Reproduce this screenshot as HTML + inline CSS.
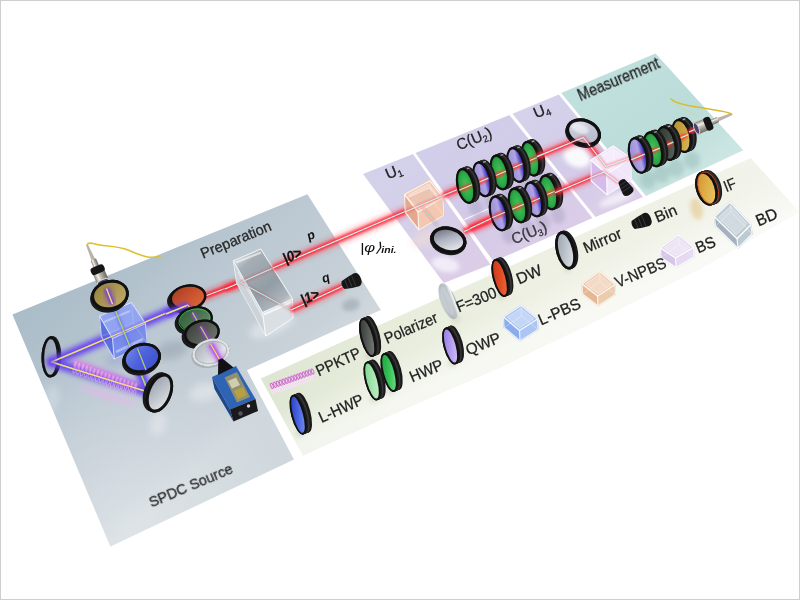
<!DOCTYPE html>
<html lang="en"><head><meta charset="utf-8"><title>Optical setup</title>
<style>html,body{margin:0;padding:0;background:#fff;overflow:hidden}svg{display:block}text{font-family:"Liberation Sans",sans-serif}</style></head>
<body>
<svg width="800" height="600" viewBox="0 0 800 600"><defs>
<linearGradient id="gGrey" gradientUnits="userSpaceOnUse" x1="12" y1="314" x2="172" y2="491">
 <stop offset="0" stop-color="#a9bcc8"/><stop offset="0.25" stop-color="#b2c2cd"/><stop offset="0.45" stop-color="#bbc8d2"/><stop offset="0.7" stop-color="#c3cdd5"/><stop offset="0.9" stop-color="#c9d2d9"/><stop offset="1" stop-color="#d0d8dd"/>
</linearGradient>
<radialGradient id="gGreyL" gradientUnits="userSpaceOnUse" cx="125" cy="525" r="170">
 <stop offset="0" stop-color="#ffffff" stop-opacity="0.3"/><stop offset="1" stop-color="#ffffff" stop-opacity="0"/>
</radialGradient>
<linearGradient id="gU1" gradientUnits="userSpaceOnUse" x1="390" y1="160" x2="465" y2="275">
 <stop offset="0" stop-color="#d3d1ea"/><stop offset="0.55" stop-color="#d6cfe9"/><stop offset="1" stop-color="#dccce7"/>
</linearGradient>
<radialGradient id="gU1fade" gradientUnits="userSpaceOnUse" cx="428" cy="284" r="26">
 <stop offset="0" stop-color="#ffffff" stop-opacity="0.85"/><stop offset="0.5" stop-color="#ffffff" stop-opacity="0.5"/><stop offset="1" stop-color="#ffffff" stop-opacity="0"/>
</radialGradient>
<linearGradient id="gU2" gradientUnits="userSpaceOnUse" x1="460" y1="130" x2="545" y2="245">
 <stop offset="0" stop-color="#d1cee9"/><stop offset="0.55" stop-color="#d2cae7"/><stop offset="1" stop-color="#dbcde8"/>
</linearGradient>
<linearGradient id="gU4" gradientUnits="userSpaceOnUse" x1="535" y1="100" x2="620" y2="210">
 <stop offset="0" stop-color="#d5d2eb"/><stop offset="0.55" stop-color="#d4cce8"/><stop offset="1" stop-color="#dccee9"/>
</linearGradient>
<linearGradient id="gMeas" gradientUnits="userSpaceOnUse" x1="610" y1="70" x2="700" y2="180">
 <stop offset="0" stop-color="#c0e0de"/><stop offset="0.6" stop-color="#bbdcd9"/><stop offset="1" stop-color="#cde6e3"/>
</linearGradient>
<linearGradient id="gLeg" gradientUnits="userSpaceOnUse" x1="270" y1="410" x2="790" y2="180">
 <stop offset="0" stop-color="#dde6d2"/><stop offset="0.25" stop-color="#e7ecdb"/><stop offset="0.6" stop-color="#eef0e3"/><stop offset="1" stop-color="#f2f3ea"/>
</linearGradient>
<linearGradient id="gLegLight" gradientUnits="userSpaceOnUse" x1="380" y1="325" x2="412" y2="393">
 <stop offset="0" stop-color="#ffffff" stop-opacity="0"/><stop offset="0.45" stop-color="#ffffff" stop-opacity="0.05"/><stop offset="1" stop-color="#ffffff" stop-opacity="0.6"/>
</linearGradient>
<filter id="b1" x="-50%" y="-50%" width="200%" height="200%"><feGaussianBlur stdDeviation="1"/></filter>
<filter id="b2" x="-50%" y="-50%" width="200%" height="200%"><feGaussianBlur stdDeviation="2"/></filter>
<filter id="b3" x="-50%" y="-50%" width="200%" height="200%"><feGaussianBlur stdDeviation="3.5"/></filter>
<filter id="b6" x="-50%" y="-50%" width="200%" height="200%"><feGaussianBlur stdDeviation="6"/></filter>
<linearGradient id="fGreen" x1="0" y1="0" x2="1" y2="1"><stop offset="0" stop-color="#1f9a3c"/><stop offset="0.5" stop-color="#35c257"/><stop offset="1" stop-color="#7fe08c"/></linearGradient><linearGradient id="fGreenL" x1="0" y1="0" x2="1" y2="1"><stop offset="0" stop-color="#6fd488"/><stop offset="0.5" stop-color="#a4e4ae"/><stop offset="1" stop-color="#c9f0cc"/></linearGradient><linearGradient id="fGreenD" x1="0" y1="0" x2="1" y2="1"><stop offset="0" stop-color="#1c7a34"/><stop offset="0.5" stop-color="#2f9a4a"/><stop offset="1" stop-color="#5fb86c"/></linearGradient><linearGradient id="fPurple" x1="0" y1="0" x2="1" y2="1"><stop offset="0" stop-color="#5a4fc0"/><stop offset="0.5" stop-color="#8a7fd8"/><stop offset="1" stop-color="#c0b4ea"/></linearGradient><linearGradient id="fPurpleL" x1="0" y1="0" x2="1" y2="1"><stop offset="0" stop-color="#8f78e0"/><stop offset="0.5" stop-color="#b39cf0"/><stop offset="1" stop-color="#d6c8f6"/></linearGradient><linearGradient id="fBlue" x1="0" y1="0" x2="1" y2="1"><stop offset="0" stop-color="#2238c8"/><stop offset="0.5" stop-color="#4a64e0"/><stop offset="1" stop-color="#7f95ee"/></linearGradient><linearGradient id="fDark" x1="0" y1="0" x2="1" y2="1"><stop offset="0" stop-color="#2e322f"/><stop offset="0.5" stop-color="#555a56"/><stop offset="1" stop-color="#7d837e"/></linearGradient><linearGradient id="fYellow" x1="0" y1="0" x2="1" y2="1"><stop offset="0" stop-color="#b8963a"/><stop offset="0.5" stop-color="#d2b252"/><stop offset="1" stop-color="#e6cc78"/></linearGradient><linearGradient id="fTan" x1="0" y1="0" x2="1" y2="1"><stop offset="0" stop-color="#94803f"/><stop offset="0.5" stop-color="#ab9652"/><stop offset="1" stop-color="#c2ae6c"/></linearGradient><linearGradient id="fRed" x1="0" y1="0" x2="1" y2="1"><stop offset="0" stop-color="#b8301c"/><stop offset="0.5" stop-color="#dc4a2a"/><stop offset="1" stop-color="#f0703c"/></linearGradient><linearGradient id="fOrange" x1="0" y1="0" x2="1" y2="1"><stop offset="0" stop-color="#c8341a"/><stop offset="0.5" stop-color="#e04a24"/><stop offset="1" stop-color="#f0703c"/></linearGradient><linearGradient id="fMirror" x1="0" y1="0" x2="1" y2="1"><stop offset="0" stop-color="#9aa0aa"/><stop offset="0.5" stop-color="#bcc2ca"/><stop offset="1" stop-color="#e6e8ec"/></linearGradient><linearGradient id="fMirrorL" x1="0" y1="0" x2="1" y2="1"><stop offset="0" stop-color="#a4a8ba"/><stop offset="0.5" stop-color="#aeb2c2"/><stop offset="1" stop-color="#b8bccb"/></linearGradient><linearGradient id="fMirror2" x1="0" y1="0" x2="1" y2="1"><stop offset="0" stop-color="#f0f2f4"/><stop offset="0.5" stop-color="#b4bac4"/><stop offset="1" stop-color="#7c828e"/></linearGradient><linearGradient id="fRedM" x1="0" y1="0" x2="1" y2="1"><stop offset="0" stop-color="#a63c22"/><stop offset="0.5" stop-color="#c8522e"/><stop offset="1" stop-color="#dc6a3c"/></linearGradient><linearGradient id="fGreenM" x1="0" y1="0" x2="1" y2="1"><stop offset="0" stop-color="#2e5a36"/><stop offset="0.5" stop-color="#4a7450"/><stop offset="1" stop-color="#6a9470"/></linearGradient><linearGradient id="fDarkM" x1="0" y1="0" x2="1" y2="1"><stop offset="0" stop-color="#3a3e3a"/><stop offset="0.5" stop-color="#555a55"/><stop offset="1" stop-color="#757a74"/></linearGradient><linearGradient id="fMirrorU" x1="0" y1="0" x2="1" y2="1"><stop offset="0" stop-color="#e2e4ee"/><stop offset="0.4" stop-color="#c4c7d6"/><stop offset="1" stop-color="#b4b8ca"/></linearGradient><linearGradient id="fMirrorD" x1="0" y1="0" x2="1" y2="1"><stop offset="0" stop-color="#5e6270"/><stop offset="0.45" stop-color="#b0b4c2"/><stop offset="1" stop-color="#f6f6fa"/></linearGradient><linearGradient id="fClearD" x1="0" y1="0" x2="1" y2="1"><stop offset="0" stop-color="#a4acb3"/><stop offset="0.4" stop-color="#c6ccd1"/><stop offset="0.7" stop-color="#e2e6e9"/><stop offset="1" stop-color="#b0b7bd"/></linearGradient><linearGradient id="fBlueM" x1="0" y1="0" x2="1" y2="1"><stop offset="0" stop-color="#7488ea"/><stop offset="0.5" stop-color="#4c62da"/><stop offset="1" stop-color="#3a4ec8"/></linearGradient><linearGradient id="rYellowI" x1="0" y1="0" x2="1" y2="1"><stop offset="0" stop-color="#c89030"/><stop offset="0.5" stop-color="#e0b048"/><stop offset="1" stop-color="#e8c868"/></linearGradient><linearGradient id="fMirrorT" x1="0" y1="0" x2="1" y2="1"><stop offset="0" stop-color="#9aa6b6"/><stop offset="0.5" stop-color="#a4afbe"/><stop offset="1" stop-color="#b2bcc8"/></linearGradient><linearGradient id="fClear" x1="0" y1="0" x2="1" y2="1"><stop offset="0" stop-color="#b8bec4"/><stop offset="0.4" stop-color="#e4e8ea"/><stop offset="0.7" stop-color="#f8f9fa"/><stop offset="1" stop-color="#c4cad0"/></linearGradient><linearGradient id="gCyl" x1="0" y1="0" x2="0" y2="1"><stop offset="0" stop-color="#8a867e"/><stop offset="0.3" stop-color="#f0eee8"/><stop offset="0.55" stop-color="#b4b0a8"/><stop offset="1" stop-color="#6e6a62"/></linearGradient><linearGradient id="gBDtop" gradientUnits="userSpaceOnUse" x1="240" y1="255" x2="285" y2="310"><stop offset="0" stop-color="#d6dce0"/><stop offset="0.16" stop-color="#a4adb4"/><stop offset="0.6" stop-color="#919ba3"/><stop offset="0.86" stop-color="#acb5bb"/><stop offset="1" stop-color="#e8ecee"/></linearGradient><radialGradient id="rGreen" cx="0.55" cy="0.5" r="0.6"><stop offset="0" stop-color="#44c65e"/><stop offset="0.7" stop-color="#2ba646"/><stop offset="1" stop-color="#187a30"/></radialGradient><linearGradient id="rPurple" x1="0" y1="0.5" x2="1" y2="0.5"><stop offset="0" stop-color="#9a8ed8"/><stop offset="0.6" stop-color="#b0a4e4"/><stop offset="0.82" stop-color="#6a5cd0"/><stop offset="1" stop-color="#2e24b8"/></linearGradient><linearGradient id="rDark" x1="0" y1="0" x2="1" y2="1"><stop offset="0" stop-color="#2c332d"/><stop offset="0.6" stop-color="#465048"/><stop offset="1" stop-color="#5e685f"/></linearGradient><linearGradient id="rYellow" x1="0" y1="0" x2="1" y2="1"><stop offset="0" stop-color="#b08c30"/><stop offset="0.6" stop-color="#cca845"/><stop offset="1" stop-color="#d8bc60"/></linearGradient><linearGradient id="fLensG" x1="0" y1="0.5" x2="1" y2="0.5"><stop offset="0" stop-color="#c9cfd4"/><stop offset="0.35" stop-color="#aeb6bd"/><stop offset="0.7" stop-color="#bcc3c9"/><stop offset="0.88" stop-color="#f4f6f7"/><stop offset="1" stop-color="#8f989f"/></linearGradient></defs>
<polygon points="12.4,314.4 307.4,194.2 380.8,310.1 246.9,370.2 294.0,459.5 110.4,546.5" fill="url(#gGrey)"/>
<polygon points="12.4,314.4 307.4,194.2 380.8,310.1 246.9,370.2 294.0,459.5 110.4,546.5" fill="url(#gGreyL)"/>
<polygon points="363.0,174.0 413.0,154.0 490.5,264.5 443.8,283.0" fill="url(#gU1)"/>
<polygon points="415.5,153.0 509.4,115.0 592.5,218.0 493.5,261.5" fill="url(#gU2)"/>
<polygon points="512.5,113.8 558.8,94.4 643.0,197.0 595.5,217.0" fill="url(#gU4)"/>
<polygon points="561.2,93.0 655.5,53.5 743.3,150.3 646.0,196.0" fill="url(#gMeas)"/>
<polygon points="260.8,378.5 380.0,324.8 600.0,225.8 750.7,158.0 799.5,212.0 700.0,269.0 600.0,319.0 500.0,367.5 400.0,411.0 303.0,455.6" fill="url(#gLeg)"/>
<polygon points="260.8,378.5 380.0,324.8 600.0,225.8 750.7,158.0 799.5,212.0 700.0,269.0 600.0,319.0 500.0,367.5 400.0,411.0 303.0,455.6" fill="url(#gLegLight)"/>
<ellipse transform="translate(52.0,398.0) rotate(8.0)" rx="7.0" ry="14.0" fill="#ffffff" opacity="0.22" filter="url(#b3)"/>
<ellipse transform="translate(107.0,395.5) rotate(18.0)" rx="30.0" ry="4.0" fill="#e8b4f0" opacity="0.5" filter="url(#b2)"/>
<ellipse transform="translate(172.0,350.0) rotate(-15.0)" rx="16.0" ry="9.0" fill="#75838f" opacity="0.3" filter="url(#b3)"/>
<ellipse transform="translate(158.0,424.0) rotate(15.0)" rx="8.0" ry="12.0" fill="#ffffff" opacity="0.3" filter="url(#b3)"/>
<ellipse transform="translate(204.0,392.0) rotate(-15.0)" rx="15.0" ry="9.0" fill="#ffffff" opacity="0.35" filter="url(#b3)"/>
<ellipse transform="translate(272.0,326.0) rotate(-22.0)" rx="24.0" ry="9.0" fill="#eef2f5" opacity="0.55" filter="url(#b3)"/>
<ellipse transform="translate(351.0,305.0) rotate(-15.0)" rx="9.0" ry="6.0" fill="#7f8b95" opacity="0.4" filter="url(#b2)"/>
<ellipse transform="translate(126.0,356.0) rotate(-20.0)" rx="22.0" ry="9.0" fill="#7888c8" opacity="0.25" filter="url(#b3)"/>
<g><ellipse transform="translate(52.30,356.50) rotate(1.0)" rx="9.00" ry="20.50" fill="#1b1b1b"/><ellipse transform="translate(51.40,356.75) rotate(1.0)" rx="9.00" ry="20.50" fill="#1b1b1b"/><ellipse transform="translate(50.50,357.00) rotate(1.0)" rx="9.00" ry="20.50" fill="#1b1b1b"/><ellipse transform="translate(50.50,357.00) rotate(1.0)" rx="9.00" ry="20.50" fill="#101010"/><ellipse transform="translate(50.50,357.00) rotate(1.0)" rx="6.30" ry="17.80" fill="url(#fMirrorT)"/></g>
<path d="M220.5 361.0 L187.5 304.0" fill="none" stroke="#a030f0" stroke-width="11.5" stroke-opacity="0.32" filter="url(#b2)" stroke-linejoin="round"/>
<path d="M220.5 361.0 L187.5 304.0" fill="none" stroke="#a030f0" stroke-width="6.0" stroke-opacity="0.8" filter="url(#b1)" stroke-linejoin="round"/>
<path d="M220.5 361.0 L187.5 304.0" fill="none" stroke="#d8ea5a" stroke-width="1.3" stroke-opacity="1" stroke-linejoin="round"/>
<path d="M187.5 304.0 L51.5 362.0 L148.0 392.0 L107.0 290.0 L104.0 283.0" fill="none" stroke="#6040f0" stroke-width="13.5" stroke-opacity="0.32" filter="url(#b2)" stroke-linejoin="round"/>
<path d="M187.5 304.0 L51.5 362.0 L148.0 392.0 L107.0 290.0 L104.0 283.0" fill="none" stroke="#6040f0" stroke-width="8.0" stroke-opacity="0.8" filter="url(#b2)" stroke-linejoin="round"/>
<path d="M187.5 304.0 L51.5 362.0 L148.0 392.0 L107.0 290.0 L104.0 283.0" fill="none" stroke="#f4e27a" stroke-width="1.5" stroke-opacity="1" stroke-linejoin="round"/>
<circle cx="52" cy="362" r="4" fill="#7040ff" opacity="0.5" filter="url(#b1)"/>
<path d="M74 362 L137 386" stroke="#e060e8" stroke-width="9" stroke-opacity="0.35" filter="url(#b2)" fill="none"/>
<ellipse transform="translate(75.5,363.5) rotate(15)" rx="1.3" ry="3.3" fill="#f8d8f8" fill-opacity="0.55" stroke="#dc84e0" stroke-width="1.0" opacity="0.95"/>
<ellipse transform="translate(74.5,370.0) rotate(15)" rx="1.3" ry="3.0" fill="none" stroke="#e6a6ea" stroke-width="1.0" opacity="0.75"/>
<ellipse transform="translate(79.2,364.9) rotate(15)" rx="1.3" ry="3.3" fill="#f8d8f8" fill-opacity="0.55" stroke="#dc84e0" stroke-width="1.0" opacity="0.95"/>
<ellipse transform="translate(78.2,371.4) rotate(15)" rx="1.3" ry="3.0" fill="none" stroke="#e6a6ea" stroke-width="1.0" opacity="0.75"/>
<ellipse transform="translate(83.0,366.3) rotate(15)" rx="1.3" ry="3.3" fill="#f8d8f8" fill-opacity="0.55" stroke="#dc84e0" stroke-width="1.0" opacity="0.95"/>
<ellipse transform="translate(82.0,372.8) rotate(15)" rx="1.3" ry="3.0" fill="none" stroke="#e6a6ea" stroke-width="1.0" opacity="0.75"/>
<ellipse transform="translate(86.8,367.8) rotate(15)" rx="1.3" ry="3.3" fill="#f8d8f8" fill-opacity="0.55" stroke="#dc84e0" stroke-width="1.0" opacity="0.95"/>
<ellipse transform="translate(85.8,374.3) rotate(15)" rx="1.3" ry="3.0" fill="none" stroke="#e6a6ea" stroke-width="1.0" opacity="0.75"/>
<ellipse transform="translate(90.5,369.2) rotate(15)" rx="1.3" ry="3.3" fill="#f8d8f8" fill-opacity="0.55" stroke="#dc84e0" stroke-width="1.0" opacity="0.95"/>
<ellipse transform="translate(89.5,375.7) rotate(15)" rx="1.3" ry="3.0" fill="none" stroke="#e6a6ea" stroke-width="1.0" opacity="0.75"/>
<ellipse transform="translate(94.2,370.6) rotate(15)" rx="1.3" ry="3.3" fill="#f8d8f8" fill-opacity="0.55" stroke="#dc84e0" stroke-width="1.0" opacity="0.95"/>
<ellipse transform="translate(93.2,377.1) rotate(15)" rx="1.3" ry="3.0" fill="none" stroke="#e6a6ea" stroke-width="1.0" opacity="0.75"/>
<ellipse transform="translate(98.0,372.0) rotate(15)" rx="1.3" ry="3.3" fill="#f8d8f8" fill-opacity="0.55" stroke="#dc84e0" stroke-width="1.0" opacity="0.95"/>
<ellipse transform="translate(97.0,378.5) rotate(15)" rx="1.3" ry="3.0" fill="none" stroke="#e6a6ea" stroke-width="1.0" opacity="0.75"/>
<ellipse transform="translate(101.8,373.4) rotate(15)" rx="1.3" ry="3.3" fill="#f8d8f8" fill-opacity="0.55" stroke="#dc84e0" stroke-width="1.0" opacity="0.95"/>
<ellipse transform="translate(100.8,379.9) rotate(15)" rx="1.3" ry="3.0" fill="none" stroke="#e6a6ea" stroke-width="1.0" opacity="0.75"/>
<ellipse transform="translate(105.5,374.9) rotate(15)" rx="1.3" ry="3.3" fill="#f8d8f8" fill-opacity="0.55" stroke="#dc84e0" stroke-width="1.0" opacity="0.95"/>
<ellipse transform="translate(104.5,381.4) rotate(15)" rx="1.3" ry="3.0" fill="none" stroke="#e6a6ea" stroke-width="1.0" opacity="0.75"/>
<ellipse transform="translate(109.2,376.3) rotate(15)" rx="1.3" ry="3.3" fill="#f8d8f8" fill-opacity="0.55" stroke="#dc84e0" stroke-width="1.0" opacity="0.95"/>
<ellipse transform="translate(108.2,382.8) rotate(15)" rx="1.3" ry="3.0" fill="none" stroke="#e6a6ea" stroke-width="1.0" opacity="0.75"/>
<ellipse transform="translate(113.0,377.7) rotate(15)" rx="1.3" ry="3.3" fill="#f8d8f8" fill-opacity="0.55" stroke="#dc84e0" stroke-width="1.0" opacity="0.95"/>
<ellipse transform="translate(112.0,384.2) rotate(15)" rx="1.3" ry="3.0" fill="none" stroke="#e6a6ea" stroke-width="1.0" opacity="0.75"/>
<ellipse transform="translate(116.8,379.1) rotate(15)" rx="1.3" ry="3.3" fill="#f8d8f8" fill-opacity="0.55" stroke="#dc84e0" stroke-width="1.0" opacity="0.95"/>
<ellipse transform="translate(115.8,385.6) rotate(15)" rx="1.3" ry="3.0" fill="none" stroke="#e6a6ea" stroke-width="1.0" opacity="0.75"/>
<ellipse transform="translate(120.5,380.5) rotate(15)" rx="1.3" ry="3.3" fill="#f8d8f8" fill-opacity="0.55" stroke="#dc84e0" stroke-width="1.0" opacity="0.95"/>
<ellipse transform="translate(119.5,387.0) rotate(15)" rx="1.3" ry="3.0" fill="none" stroke="#e6a6ea" stroke-width="1.0" opacity="0.75"/>
<ellipse transform="translate(124.2,382.0) rotate(15)" rx="1.3" ry="3.3" fill="#f8d8f8" fill-opacity="0.55" stroke="#dc84e0" stroke-width="1.0" opacity="0.95"/>
<ellipse transform="translate(123.2,388.5) rotate(15)" rx="1.3" ry="3.0" fill="none" stroke="#e6a6ea" stroke-width="1.0" opacity="0.75"/>
<ellipse transform="translate(128.0,383.4) rotate(15)" rx="1.3" ry="3.3" fill="#f8d8f8" fill-opacity="0.55" stroke="#dc84e0" stroke-width="1.0" opacity="0.95"/>
<ellipse transform="translate(127.0,389.9) rotate(15)" rx="1.3" ry="3.0" fill="none" stroke="#e6a6ea" stroke-width="1.0" opacity="0.75"/>
<ellipse transform="translate(131.8,384.8) rotate(15)" rx="1.3" ry="3.3" fill="#f8d8f8" fill-opacity="0.55" stroke="#dc84e0" stroke-width="1.0" opacity="0.95"/>
<ellipse transform="translate(130.8,391.3) rotate(15)" rx="1.3" ry="3.0" fill="none" stroke="#e6a6ea" stroke-width="1.0" opacity="0.75"/>
<ellipse transform="translate(135.5,386.2) rotate(15)" rx="1.3" ry="3.3" fill="#f8d8f8" fill-opacity="0.55" stroke="#dc84e0" stroke-width="1.0" opacity="0.95"/>
<ellipse transform="translate(134.5,392.7) rotate(15)" rx="1.3" ry="3.0" fill="none" stroke="#e6a6ea" stroke-width="1.0" opacity="0.75"/>
<path d="M60.0 364.8 L146.0 391.4" fill="none" stroke="#6040f0" stroke-width="3.0" stroke-opacity="0.3" filter="url(#b1)" stroke-linejoin="round"/>
<path d="M60.0 364.8 L146.0 391.4" fill="none" stroke="#f4e27a" stroke-width="1.2" stroke-opacity="1" stroke-linejoin="round"/>
<polygon points="99.5,316.0 131.5,302.5 145.5,323.5 147.3,344.0 114.3,359.0 101.3,336.5" fill="#6a7ee4" fill-opacity="0.88" stroke="#4a5cc8" stroke-width="1.0" stroke-opacity="0.6" stroke-linejoin="round" />
<polygon points="99.5,316.0 112.5,338.5 114.3,359.0 101.3,336.5" fill="#5468dc" fill-opacity="0.75" />
<polygon points="112.5,338.5 145.5,323.5 147.3,344.0 114.3,359.0" fill="#7c90ec" fill-opacity="0.65" />
<polygon points="99.5,316.0 131.5,302.5 145.5,323.5 112.5,338.5" fill="#9aacf4" fill-opacity="0.8" stroke="#e6ecff" stroke-width="1.1" stroke-opacity="0.9" stroke-linejoin="round" />
<path d="M112.5 338.5 L114.3 359 M99.5 316 L101.3 336.5 M145.5 323.5 L147.3 344" stroke="#e6ecff" stroke-width="1.1" stroke-opacity="0.8" fill="none"/>
<path d="M101.3 336.5 L114.3 359 L147.3 344" stroke="#dfe6ff" stroke-width="1.3" stroke-opacity="0.8" fill="none" stroke-linejoin="round"/>
<path d="M131.5 302.5 L133.3 323 M101.3 336.5 L133.3 323 L147.3 344" stroke="#c8d2ff" stroke-width="0.7" stroke-opacity="0.45" fill="none"/>
<path d="M104 322 L130 311" stroke="#ffffff" stroke-width="2" stroke-opacity="0.35"/>
<path d="M116 352 L143 339" stroke="#e8eeff" stroke-width="2.5" stroke-opacity="0.45"/>
<path d="M187.5 304.0 L60.0 358.5" fill="none" stroke="#6040f0" stroke-width="4.0" stroke-opacity="0.35" filter="url(#b1)" stroke-linejoin="round"/>
<path d="M187.5 304.0 L60.0 358.5" fill="none" stroke="#f4e27a" stroke-width="1.3" stroke-opacity="1" stroke-linejoin="round"/>
<path d="M146.0 386.0 L107.0 290.0" fill="none" stroke="#6040f0" stroke-width="4.0" stroke-opacity="0.35" filter="url(#b1)" stroke-linejoin="round"/>
<path d="M146.0 386.0 L107.0 290.0" fill="none" stroke="#9fe060" stroke-width="1.2" stroke-opacity="1" stroke-linejoin="round"/>
<g transform="translate(103.0,282.0) rotate(-113.4) scale(1.008,1.000)"><path d="M24 -1.9 L40 -1.0 L40 1.0 L24 1.9Z" fill="#b8b4ac"/><rect x="16" y="-2.9" width="8.5" height="5.8" rx="1" fill="url(#gCyl)"/><rect x="0" y="-6.2" width="10.5" height="12.4" fill="url(#gCyl)"/><ellipse cx="0" cy="0" rx="2.4" ry="6.2" fill="#4a4270"/><ellipse cx="0" cy="0" rx="2.4" ry="6.2" fill="none" stroke="#d8d6d0" stroke-width="0.9"/><rect x="9.5" y="-7.1" width="7.6" height="14.2" rx="3" fill="#151515"/></g>
<path d="M87 245 C88 242,92 243,97 244.5 S118 246,128 250 S148 259.5,160 256.5" fill="none" stroke="#dcc02e" stroke-width="1.5" stroke-linecap="round"/>
<g><ellipse transform="translate(109.00,297.40) rotate(-13.0)" rx="19.00" ry="15.00" fill="#1b1b1b"/><ellipse transform="translate(109.33,296.60) rotate(-13.0)" rx="19.00" ry="15.00" fill="#1b1b1b"/><ellipse transform="translate(109.67,295.80) rotate(-13.0)" rx="19.00" ry="15.00" fill="#1b1b1b"/><ellipse transform="translate(110.00,295.00) rotate(-13.0)" rx="19.00" ry="15.00" fill="#1b1b1b"/><ellipse transform="translate(110.00,295.00) rotate(-13.0)" rx="19.00" ry="15.00" fill="#101010"/><ellipse transform="translate(110.00,295.00) rotate(-13.0)" rx="16.10" ry="12.10" fill="url(#fTan)"/></g>
<path d="M112.5 304.0 L106.5 288.5" fill="none" stroke="#6a2cf0" stroke-width="10.0" stroke-opacity="0.32" filter="url(#b2)" stroke-linejoin="round"/>
<path d="M112.5 304.0 L106.5 288.5" fill="none" stroke="#6a2cf0" stroke-width="4.5" stroke-opacity="0.75" filter="url(#b1)" stroke-linejoin="round"/>
<path d="M112.5 304.0 L106.5 288.5" fill="none" stroke="#f4e27a" stroke-width="1.4" stroke-opacity="1" stroke-linejoin="round"/>
<g><ellipse transform="translate(141.00,360.40) rotate(-15.0)" rx="19.30" ry="14.80" fill="#1b1b1b"/><ellipse transform="translate(141.33,359.60) rotate(-15.0)" rx="19.30" ry="14.80" fill="#1b1b1b"/><ellipse transform="translate(141.67,358.80) rotate(-15.0)" rx="19.30" ry="14.80" fill="#1b1b1b"/><ellipse transform="translate(142.00,358.00) rotate(-15.0)" rx="19.30" ry="14.80" fill="#1b1b1b"/><ellipse transform="translate(142.00,358.00) rotate(-15.0)" rx="19.30" ry="14.80" fill="#101010"/><ellipse transform="translate(142.00,358.00) rotate(-15.0)" rx="16.40" ry="11.90" fill="url(#fBlueM)"/></g>
<path d="M146.0 370.0 L137.5 348.5" fill="none" stroke="#6040f0" stroke-width="4.0" stroke-opacity="0.6" filter="url(#b1)" stroke-linejoin="round"/>
<path d="M146.0 370.0 L137.5 348.5" fill="none" stroke="#9fe060" stroke-width="1.2" stroke-opacity="1" stroke-linejoin="round"/>
<g><ellipse transform="translate(156.30,391.80) rotate(22.0)" rx="12.20" ry="20.50" fill="#1b1b1b"/><ellipse transform="translate(157.10,392.10) rotate(22.0)" rx="12.20" ry="20.50" fill="#1b1b1b"/><ellipse transform="translate(157.90,392.40) rotate(22.0)" rx="12.20" ry="20.50" fill="#1b1b1b"/><ellipse transform="translate(158.70,392.70) rotate(22.0)" rx="12.20" ry="20.50" fill="#1b1b1b"/><ellipse transform="translate(159.50,393.00) rotate(22.0)" rx="12.20" ry="20.50" fill="#1b1b1b"/><ellipse transform="translate(159.50,393.00) rotate(22.0)" rx="12.20" ry="20.50" fill="#101010"/><ellipse transform="translate(159.50,393.00) rotate(22.0)" rx="9.20" ry="17.50" fill="url(#fMirror)"/></g>
<path d="M191.0 301.5 L246.0 280.5" fill="none" stroke="#ff1a2a" stroke-width="11.0" stroke-opacity="0.32" filter="url(#b2)" stroke-linejoin="round"/>
<path d="M191.0 301.5 L246.0 280.5" fill="none" stroke="#ff1a2a" stroke-width="5.5" stroke-opacity="0.85" filter="url(#b1)" stroke-linejoin="round"/>
<path d="M191.0 301.5 L246.0 280.5" fill="none" stroke="#d6f4f2" stroke-width="1.2" stroke-opacity="1" stroke-linejoin="round"/>
<g><ellipse transform="translate(185.40,299.90) rotate(-10.0)" rx="18.50" ry="13.00" fill="#1b1b1b"/><ellipse transform="translate(186.05,299.30) rotate(-10.0)" rx="18.50" ry="13.00" fill="#1b1b1b"/><ellipse transform="translate(186.70,298.70) rotate(-10.0)" rx="18.50" ry="13.00" fill="#1b1b1b"/><ellipse transform="translate(187.35,298.10) rotate(-10.0)" rx="18.50" ry="13.00" fill="#1b1b1b"/><ellipse transform="translate(188.00,297.50) rotate(-10.0)" rx="18.50" ry="13.00" fill="#1b1b1b"/><ellipse transform="translate(188.00,297.50) rotate(-10.0)" rx="18.50" ry="13.00" fill="#101010"/><ellipse transform="translate(188.00,297.50) rotate(-10.0)" rx="16.10" ry="10.60" fill="url(#fRedM)"/></g>
<path d="M188.0 305.0 L166.0 314.0" fill="none" stroke="#6040f0" stroke-width="11.5" stroke-opacity="0.32" filter="url(#b2)" stroke-linejoin="round"/>
<path d="M188.0 305.0 L166.0 314.0" fill="none" stroke="#6040f0" stroke-width="6.0" stroke-opacity="0.8" filter="url(#b1)" stroke-linejoin="round"/>
<path d="M188.0 305.0 L166.0 314.0" fill="none" stroke="#f4e27a" stroke-width="1.4" stroke-opacity="1" stroke-linejoin="round"/>
<path d="M199.6 325.0 L188.1 305.0" fill="none" stroke="#a030f0" stroke-width="5.0" stroke-opacity="0.6" filter="url(#b1)" stroke-linejoin="round"/>
<path d="M199.6 325.0 L188.1 305.0" fill="none" stroke="#a8e050" stroke-width="1.2" stroke-opacity="1" stroke-linejoin="round"/>
<g><ellipse transform="translate(192.40,321.90) rotate(-13.0)" rx="18.00" ry="13.20" fill="#1b1b1b"/><ellipse transform="translate(193.05,321.30) rotate(-13.0)" rx="18.00" ry="13.20" fill="#1b1b1b"/><ellipse transform="translate(193.70,320.70) rotate(-13.0)" rx="18.00" ry="13.20" fill="#1b1b1b"/><ellipse transform="translate(194.35,320.10) rotate(-13.0)" rx="18.00" ry="13.20" fill="#1b1b1b"/><ellipse transform="translate(195.00,319.50) rotate(-13.0)" rx="18.00" ry="13.20" fill="#1b1b1b"/><ellipse transform="translate(195.00,319.50) rotate(-13.0)" rx="18.00" ry="13.20" fill="#101010"/><ellipse transform="translate(195.00,319.50) rotate(-13.0)" rx="15.60" ry="10.80" fill="url(#fGreenM)"/></g>
<ellipse transform="translate(194.5,320) rotate(-13)" rx="15.8" ry="10.8" fill="none" stroke="#38c850" stroke-width="0.9" opacity="0.8"/>
<path d="M206.0 336.0 L192.4 312.5" fill="none" stroke="#a030f0" stroke-width="5.0" stroke-opacity="0.65" filter="url(#b1)" stroke-linejoin="round"/>
<path d="M206.0 336.0 L192.4 312.5" fill="none" stroke="#a8e050" stroke-width="1.2" stroke-opacity="1" stroke-linejoin="round"/>
<g><ellipse transform="translate(199.40,335.40) rotate(-14.0)" rx="18.00" ry="13.20" fill="#1b1b1b"/><ellipse transform="translate(200.05,334.80) rotate(-14.0)" rx="18.00" ry="13.20" fill="#1b1b1b"/><ellipse transform="translate(200.70,334.20) rotate(-14.0)" rx="18.00" ry="13.20" fill="#1b1b1b"/><ellipse transform="translate(201.35,333.60) rotate(-14.0)" rx="18.00" ry="13.20" fill="#1b1b1b"/><ellipse transform="translate(202.00,333.00) rotate(-14.0)" rx="18.00" ry="13.20" fill="#1b1b1b"/><ellipse transform="translate(202.00,333.00) rotate(-14.0)" rx="18.00" ry="13.20" fill="#101010"/><ellipse transform="translate(202.00,333.00) rotate(-14.0)" rx="15.60" ry="10.80" fill="url(#fDarkM)"/></g>
<path d="M215.2 352.0 L200.5 326.5" fill="none" stroke="#a030f0" stroke-width="5.0" stroke-opacity="0.65" filter="url(#b1)" stroke-linejoin="round"/>
<path d="M215.2 352.0 L200.5 326.5" fill="none" stroke="#a8e050" stroke-width="1.2" stroke-opacity="1" stroke-linejoin="round"/>
<g><ellipse transform="translate(209.60,354.50) rotate(-14.0)" rx="18.50" ry="13.20" fill="#aab1b7"/><ellipse transform="translate(210.07,353.83) rotate(-14.0)" rx="18.50" ry="13.20" fill="#aab1b7"/><ellipse transform="translate(210.53,353.17) rotate(-14.0)" rx="18.50" ry="13.20" fill="#aab1b7"/><ellipse transform="translate(211.00,352.50) rotate(-14.0)" rx="18.50" ry="13.20" fill="#aab1b7"/><ellipse transform="translate(211.00,352.50) rotate(-14.0)" rx="18.50" ry="13.20" fill="#101010"/><ellipse transform="translate(211.00,352.50) rotate(-14.0)" rx="16.90" ry="11.60" fill="url(#fClearD)"/></g>
<ellipse transform="translate(211,352.5) rotate(-14)" rx="17.6" ry="12.3" fill="none" stroke="#dfe3e6" stroke-width="2.4"/>
<ellipse transform="translate(211,352.5) rotate(-14)" rx="16" ry="10.8" fill="none" stroke="#9aa2a8" stroke-width="0.7" opacity="0.8"/>
<path d="M220.5 361.0 L210.6 344.0" fill="none" stroke="#b030f0" stroke-width="10.5" stroke-opacity="0.32" filter="url(#b2)" stroke-linejoin="round"/>
<path d="M220.5 361.0 L210.6 344.0" fill="none" stroke="#b030f0" stroke-width="5.0" stroke-opacity="0.7" filter="url(#b1)" stroke-linejoin="round"/>
<path d="M220.5 361.0 L210.6 344.0" fill="none" stroke="#e6e05a" stroke-width="1.3" stroke-opacity="1" stroke-linejoin="round"/>
<polygon points="212.0,377.0 236.0,366.0 255.5,399.0 230.0,409.5" fill="#2f63b4" fill-opacity="1" />
<polygon points="212.0,377.0 230.0,409.5 233.5,421.5 214.5,389.0" fill="#1f4688" fill-opacity="1" />
<polygon points="230.0,409.5 255.5,399.0 258.0,411.0 233.5,421.5" fill="#1a1a1c" fill-opacity="1" />
<polygon points="224.5,377.5 237.0,372.0 250.0,397.0 237.0,402.5" fill="#8f9070" fill-opacity="1" />
<polygon points="228.0,381.0 236.0,377.5 240.0,385.0 232.0,388.5" fill="#d0ccb0" fill-opacity="1" />
<polygon points="234.0,391.0 243.0,387.0 247.0,395.0 238.0,399.0" fill="#b8a040" fill-opacity="1" />
<circle cx="240.5" cy="413.5" r="2.2" fill="#56565a"/><circle cx="248.5" cy="406" r="1.7" fill="#dcdce0"/>
<polygon points="218.3,359.8 222.2,358.2 233.5,367.5 218.0,375.0" fill="#121214" fill-opacity="1" />
<path d="M225.0 289.0 L240.5 282.5" fill="none" stroke="#ff2a3a" stroke-width="11.0" stroke-opacity="0.32" filter="url(#b2)" stroke-linejoin="round"/>
<path d="M225.0 289.0 L240.5 282.5" fill="none" stroke="#ff2a3a" stroke-width="5.5" stroke-opacity="0.85" filter="url(#b1)" stroke-linejoin="round"/>
<path d="M225.0 289.0 L240.5 282.5" fill="none" stroke="#d2f6f4" stroke-width="1.2" stroke-opacity="1" stroke-linejoin="round"/>
<polygon points="233.3,260.8 262.5,312.5 265.8,336.0 236.5,283.0" fill="#ccd4d9" fill-opacity="1" stroke="#eef2f4" stroke-width="0.9" stroke-opacity="0.9" stroke-linejoin="round" />
<polygon points="262.5,312.5 292.5,299.0 293.0,318.0 265.8,336.0" fill="#d9dfe3" fill-opacity="1" stroke="#ffffff" stroke-width="0.9" stroke-opacity="0.9" stroke-linejoin="round" />
<polygon points="233.3,260.8 260.8,249.0 292.5,299.0 262.5,312.5" fill="url(#gBDtop)" fill-opacity="0.97" stroke="#eef2f4" stroke-width="1.1" stroke-opacity="0.95" stroke-linejoin="round" />
<path d="M236 262.5 L261 252.5" stroke="#ffffff" stroke-width="2" stroke-opacity="0.6"/>
<path d="M264 314.5 L291.5 302" stroke="#ffffff" stroke-width="2" stroke-opacity="0.7"/>
<path d="M238 272 L263.5 318" stroke="#eef2f4" stroke-width="1.5" stroke-opacity="0.6"/>
<path d="M240.5 282.5 L273.0 268.0" fill="none" stroke="#ff2a3a" stroke-width="3.5" stroke-opacity="0.35" filter="url(#b1)" stroke-linejoin="round"/>
<path d="M240.5 282.5 L273.0 268.0" fill="none" stroke="#d2f6f4" stroke-width="1.0" stroke-opacity="1" stroke-linejoin="round"/>
<path d="M240.5 282.5 L291.0 310.0" fill="none" stroke="#ff2a3a" stroke-width="2.5" stroke-opacity="0.3" filter="url(#b1)" stroke-linejoin="round"/>
<path d="M240.5 282.5 L291.0 310.0" fill="none" stroke="#bfeaea" stroke-width="0.9" stroke-opacity="1" stroke-linejoin="round"/>
<path d="M240.5 282.5 L291 310 M240.5 282.5 L273 268" stroke="#9fe6e6" stroke-width="0.9" stroke-opacity="0.9" fill="none"/>
<path d="M273.0 268.0 L408.0 210.2" fill="none" stroke="#ff2a3a" stroke-width="11.0" stroke-opacity="0.32" filter="url(#b2)" stroke-linejoin="round"/>
<path d="M273.0 268.0 L408.0 210.2" fill="none" stroke="#ff2a3a" stroke-width="5.5" stroke-opacity="0.85" filter="url(#b1)" stroke-linejoin="round"/>
<path d="M273.0 268.0 L408.0 210.2" fill="none" stroke="#d2f6f4" stroke-width="1.2" stroke-opacity="1" stroke-linejoin="round"/>
<path d="M291.0 310.0 L343.0 286.0" fill="none" stroke="#ff2a3a" stroke-width="11.0" stroke-opacity="0.32" filter="url(#b2)" stroke-linejoin="round"/>
<path d="M291.0 310.0 L343.0 286.0" fill="none" stroke="#ff2a3a" stroke-width="5.5" stroke-opacity="0.85" filter="url(#b1)" stroke-linejoin="round"/>
<path d="M291.0 310.0 L343.0 286.0" fill="none" stroke="#d2f6f4" stroke-width="1.2" stroke-opacity="1" stroke-linejoin="round"/>
<g transform="translate(351.0,282.0) rotate(-22.0) scale(1.00)"><path d="M-8.5 -4.2 Q-1 -6.2 6 -7 Q10.5 -6.8 10.5 0 Q10.5 6.8 6 7 Q-1 6.2 -8.5 4.2 Q-11 0 -8.5 -4.2Z" fill="#161616"/><path d="M-5 -4.6 L-5 4.6 M-1 -5.3 L-1 5.3 M3 -6 L3 6" stroke="#3a3a3a" stroke-width="0.9" fill="none"/></g>
<ellipse transform="translate(445.5,264.5) rotate(12.0)" rx="14.0" ry="7.5" fill="#f4f0fa" opacity="0.9" filter="url(#b2)"/>
<ellipse transform="translate(426.0,238.0) rotate(-22.0)" rx="16.0" ry="7.0" fill="#f6ddd4" opacity="0.55" filter="url(#b3)"/>
<polygon points="404.4,194.4 430.0,180.6 443.0,197.5 443.8,215.5 418.8,230.0 405.2,212.4" fill="#f2c8b2" fill-opacity="0.945" stroke="#c48068" stroke-width="1.2" stroke-opacity="0.8" stroke-linejoin="round" />
<polygon points="404.4,194.4 418.0,212.0 418.8,230.0 405.2,212.4" fill="#e4a88e" fill-opacity="1" />
<polygon points="418.0,212.0 443.0,197.5 443.8,215.5 418.8,230.0" fill="#f2c8b2" fill-opacity="0.675" />
<polygon points="404.4,194.4 430.0,180.6 443.0,197.5 418.0,212.0" fill="#f2c8b2" fill-opacity="0.81" />
<polygon points="408.7,194.8 428.6,184.0 438.8,197.2 419.3,208.5" fill="#ffffff" fill-opacity="0.3" stroke="#ffffff" stroke-width="0.7" stroke-opacity="0.6" stroke-linejoin="round" />
<path d="M404.4 194.4 L430.0 180.6 L443.0 197.5 L418.0 212.0 Z" stroke="#fff8f4" stroke-width="1.3" stroke-opacity="0.95" fill="none" stroke-linejoin="round"/>
<path d="M418.0 212.0 L418.8 230.0 M404.4 194.4 L405.2 212.4 M443.0 197.5 L443.8 215.5" stroke="#fff8f4" stroke-width="1.2" stroke-opacity="0.85" fill="none"/>
<path d="M405.2 212.4 L418.8 230.0 L443.8 215.5" stroke="#fff8f4" stroke-width="1.4" stroke-opacity="0.9" fill="none" stroke-linejoin="round"/>
<path d="M430.0 180.6 L430.8 198.6 M405.2 212.4 L430.8 198.6 L443.8 215.5" stroke="#fff8f4" stroke-width="0.7" stroke-opacity="0.5" fill="none"/>
<path d="M408 197.5 L429.5 188 L438.5 199.5 L418.5 208.5Z" fill="#d8a088" fill-opacity="0.35" stroke="#fff6f0" stroke-width="0.8" stroke-opacity="0.7"/>
<path d="M405.0 212.0 L443.0 195.5" fill="none" stroke="#ff2a3a" stroke-width="3.5" stroke-opacity="0.4" filter="url(#b1)" stroke-linejoin="round"/>
<path d="M405.0 212.0 L443.0 195.5" fill="none" stroke="#d2f6f4" stroke-width="1.1" stroke-opacity="1" stroke-linejoin="round"/>
<path d="M422.5 207.0 L437.5 226.0" fill="none" stroke="#ff2a3a" stroke-width="2.5" stroke-opacity="0.3" filter="url(#b1)" stroke-linejoin="round"/>
<path d="M422.5 207.0 L437.5 226.0" fill="none" stroke="#9fe6e6" stroke-width="1.1" stroke-opacity="1" stroke-linejoin="round"/>
<g><ellipse transform="translate(447.90,241.60) rotate(15.0)" rx="18.30" ry="13.20" fill="#1b1b1b"/><ellipse transform="translate(448.20,240.80) rotate(15.0)" rx="18.30" ry="13.20" fill="#1b1b1b"/><ellipse transform="translate(448.50,240.00) rotate(15.0)" rx="18.30" ry="13.20" fill="#1b1b1b"/><ellipse transform="translate(448.50,240.00) rotate(15.0)" rx="18.30" ry="13.20" fill="#101010"/><ellipse transform="translate(448.50,240.00) rotate(15.0)" rx="14.90" ry="9.80" fill="url(#fMirrorD)"/></g>
<path d="M443.0 195.5 L540.0 155.4" fill="none" stroke="#ff2a3a" stroke-width="11.0" stroke-opacity="0.32" filter="url(#b2)" stroke-linejoin="round"/>
<path d="M443.0 195.5 L540.0 155.4" fill="none" stroke="#ff2a3a" stroke-width="5.5" stroke-opacity="0.85" filter="url(#b1)" stroke-linejoin="round"/>
<path d="M443.0 195.5 L540.0 155.4" fill="none" stroke="#d2f6f4" stroke-width="1.2" stroke-opacity="1" stroke-linejoin="round"/>
<path d="M464.0 231.5 L560.0 190.6" fill="none" stroke="#ff2a3a" stroke-width="11.0" stroke-opacity="0.32" filter="url(#b2)" stroke-linejoin="round"/>
<path d="M464.0 231.5 L560.0 190.6" fill="none" stroke="#ff2a3a" stroke-width="5.5" stroke-opacity="0.85" filter="url(#b1)" stroke-linejoin="round"/>
<path d="M464.0 231.5 L560.0 190.6" fill="none" stroke="#d2f6f4" stroke-width="1.2" stroke-opacity="1" stroke-linejoin="round"/>
<path d="M464.5 219.5 L509.5 199.5 M553 179 L558.5 176.5" stroke="#ffffff" stroke-width="1.2" fill="none" opacity="0.9"/>
<ellipse transform="translate(476.0,208.0) rotate(-14.0)" rx="7.0" ry="9.0" fill="#8f88aa" opacity="0.3" filter="url(#b2)"/>
<ellipse transform="translate(492.0,201.0) rotate(-14.0)" rx="7.0" ry="9.0" fill="#8f88aa" opacity="0.3" filter="url(#b2)"/>
<ellipse transform="translate(509.0,194.0) rotate(-14.0)" rx="7.0" ry="9.0" fill="#8f88aa" opacity="0.3" filter="url(#b2)"/>
<ellipse transform="translate(526.0,187.0) rotate(-14.0)" rx="7.0" ry="9.0" fill="#8f88aa" opacity="0.3" filter="url(#b2)"/>
<ellipse transform="translate(540.0,181.0) rotate(-14.0)" rx="7.0" ry="9.0" fill="#8f88aa" opacity="0.3" filter="url(#b2)"/>
<ellipse transform="translate(509.0,235.0) rotate(-14.0)" rx="7.0" ry="9.0" fill="#8f88aa" opacity="0.3" filter="url(#b2)"/>
<ellipse transform="translate(527.0,228.0) rotate(-14.0)" rx="7.0" ry="9.0" fill="#8f88aa" opacity="0.3" filter="url(#b2)"/>
<ellipse transform="translate(543.0,222.0) rotate(-14.0)" rx="7.0" ry="9.0" fill="#8f88aa" opacity="0.3" filter="url(#b2)"/>
<ellipse transform="translate(558.0,215.0) rotate(-14.0)" rx="7.0" ry="9.0" fill="#8f88aa" opacity="0.3" filter="url(#b2)"/>
<g><ellipse transform="translate(535.60,156.75) rotate(-14.0)" rx="8.90" ry="18.20" fill="#1b1b1b"/><ellipse transform="translate(534.77,157.08) rotate(-14.0)" rx="8.90" ry="18.20" fill="#1b1b1b"/><ellipse transform="translate(533.93,157.42) rotate(-14.0)" rx="8.90" ry="18.20" fill="#363636"/><ellipse transform="translate(533.10,157.75) rotate(-14.0)" rx="8.90" ry="18.20" fill="#363636"/><ellipse transform="translate(532.27,158.08) rotate(-14.0)" rx="8.90" ry="18.20" fill="#1b1b1b"/><ellipse transform="translate(531.43,158.42) rotate(-14.0)" rx="8.90" ry="18.20" fill="#1b1b1b"/><ellipse transform="translate(530.60,158.75) rotate(-14.0)" rx="8.90" ry="18.20" fill="#1b1b1b"/><ellipse transform="translate(530.60,158.75) rotate(-14.0)" rx="8.90" ry="18.20" fill="#101010"/><ellipse transform="translate(530.60,158.75) rotate(-14.0)" rx="6.80" ry="16.10" fill="url(#rGreen)"/></g>
<path d="M531.8 141.8 l2.6 -1" stroke="#a8a8a8" stroke-width="1.3"/>
<ellipse transform="translate(530.6,160.2) rotate(-23)" rx="6.9" ry="2.8" fill="#ff3018" opacity="0.8" filter="url(#b1)"/>
<path d="M524.2 163.0 L537.0 157.5" stroke="#bff0ee" stroke-width="1.2"/>
<path d="M523.6 162.9 L529.0 160.8" fill="none" stroke="#ff2a3a" stroke-width="10.0" stroke-opacity="0.32" filter="url(#b2)" stroke-linejoin="round"/>
<path d="M523.6 162.9 L529.0 160.8" fill="none" stroke="#ff2a3a" stroke-width="4.5" stroke-opacity="0.85" filter="url(#b1)" stroke-linejoin="round"/>
<path d="M523.6 162.9 L529.0 160.8" fill="none" stroke="#d2f6f4" stroke-width="1.2" stroke-opacity="1" stroke-linejoin="round"/>
<g><ellipse transform="translate(521.00,163.00) rotate(-14.0)" rx="8.90" ry="18.20" fill="#1b1b1b"/><ellipse transform="translate(520.17,163.33) rotate(-14.0)" rx="8.90" ry="18.20" fill="#1b1b1b"/><ellipse transform="translate(519.33,163.67) rotate(-14.0)" rx="8.90" ry="18.20" fill="#363636"/><ellipse transform="translate(518.50,164.00) rotate(-14.0)" rx="8.90" ry="18.20" fill="#363636"/><ellipse transform="translate(517.67,164.33) rotate(-14.0)" rx="8.90" ry="18.20" fill="#1b1b1b"/><ellipse transform="translate(516.83,164.67) rotate(-14.0)" rx="8.90" ry="18.20" fill="#1b1b1b"/><ellipse transform="translate(516.00,165.00) rotate(-14.0)" rx="8.90" ry="18.20" fill="#1b1b1b"/><ellipse transform="translate(516.00,165.00) rotate(-14.0)" rx="8.90" ry="18.20" fill="#101010"/><ellipse transform="translate(516.00,165.00) rotate(-14.0)" rx="6.80" ry="16.10" fill="url(#rPurple)"/></g>
<path d="M517.2 148.0 l2.6 -1" stroke="#a8a8a8" stroke-width="1.3"/>
<ellipse transform="translate(516.0,166.5) rotate(-23)" rx="6.9" ry="2.8" fill="#ff3018" opacity="0.8" filter="url(#b1)"/>
<path d="M509.6 169.3 L522.4 163.7" stroke="#bff0ee" stroke-width="1.2"/>
<path d="M509.0 169.2 L512.4 168.3" fill="none" stroke="#ff2a3a" stroke-width="10.0" stroke-opacity="0.32" filter="url(#b2)" stroke-linejoin="round"/>
<path d="M509.0 169.2 L512.4 168.3" fill="none" stroke="#ff2a3a" stroke-width="4.5" stroke-opacity="0.85" filter="url(#b1)" stroke-linejoin="round"/>
<path d="M509.0 169.2 L512.4 168.3" fill="none" stroke="#d2f6f4" stroke-width="1.2" stroke-opacity="1" stroke-linejoin="round"/>
<g><ellipse transform="translate(504.40,170.50) rotate(-14.0)" rx="8.90" ry="18.20" fill="#1b1b1b"/><ellipse transform="translate(503.57,170.83) rotate(-14.0)" rx="8.90" ry="18.20" fill="#1b1b1b"/><ellipse transform="translate(502.73,171.17) rotate(-14.0)" rx="8.90" ry="18.20" fill="#363636"/><ellipse transform="translate(501.90,171.50) rotate(-14.0)" rx="8.90" ry="18.20" fill="#363636"/><ellipse transform="translate(501.07,171.83) rotate(-14.0)" rx="8.90" ry="18.20" fill="#1b1b1b"/><ellipse transform="translate(500.23,172.17) rotate(-14.0)" rx="8.90" ry="18.20" fill="#1b1b1b"/><ellipse transform="translate(499.40,172.50) rotate(-14.0)" rx="8.90" ry="18.20" fill="#1b1b1b"/><ellipse transform="translate(499.40,172.50) rotate(-14.0)" rx="8.90" ry="18.20" fill="#101010"/><ellipse transform="translate(499.40,172.50) rotate(-14.0)" rx="6.80" ry="16.10" fill="url(#rGreen)"/></g>
<path d="M500.6 155.5 l2.6 -1" stroke="#a8a8a8" stroke-width="1.3"/>
<ellipse transform="translate(499.4,174.0) rotate(-23)" rx="6.9" ry="2.8" fill="#ff3018" opacity="0.8" filter="url(#b1)"/>
<path d="M493.0 176.8 L505.8 171.2" stroke="#bff0ee" stroke-width="1.2"/>
<path d="M492.4 176.7 L495.0 175.2" fill="none" stroke="#ff2a3a" stroke-width="10.0" stroke-opacity="0.32" filter="url(#b2)" stroke-linejoin="round"/>
<path d="M492.4 176.7 L495.0 175.2" fill="none" stroke="#ff2a3a" stroke-width="4.5" stroke-opacity="0.85" filter="url(#b1)" stroke-linejoin="round"/>
<path d="M492.4 176.7 L495.0 175.2" fill="none" stroke="#d2f6f4" stroke-width="1.2" stroke-opacity="1" stroke-linejoin="round"/>
<g><ellipse transform="translate(487.00,177.40) rotate(-14.0)" rx="8.90" ry="18.20" fill="#1b1b1b"/><ellipse transform="translate(486.17,177.73) rotate(-14.0)" rx="8.90" ry="18.20" fill="#1b1b1b"/><ellipse transform="translate(485.33,178.07) rotate(-14.0)" rx="8.90" ry="18.20" fill="#363636"/><ellipse transform="translate(484.50,178.40) rotate(-14.0)" rx="8.90" ry="18.20" fill="#363636"/><ellipse transform="translate(483.67,178.73) rotate(-14.0)" rx="8.90" ry="18.20" fill="#1b1b1b"/><ellipse transform="translate(482.83,179.07) rotate(-14.0)" rx="8.90" ry="18.20" fill="#1b1b1b"/><ellipse transform="translate(482.00,179.40) rotate(-14.0)" rx="8.90" ry="18.20" fill="#1b1b1b"/><ellipse transform="translate(482.00,179.40) rotate(-14.0)" rx="8.90" ry="18.20" fill="#101010"/><ellipse transform="translate(482.00,179.40) rotate(-14.0)" rx="6.80" ry="16.10" fill="url(#rPurple)"/></g>
<path d="M483.2 162.4 l2.6 -1" stroke="#a8a8a8" stroke-width="1.3"/>
<ellipse transform="translate(482.0,180.9) rotate(-23)" rx="6.9" ry="2.8" fill="#ff3018" opacity="0.8" filter="url(#b1)"/>
<path d="M475.6 183.7 L488.4 178.1" stroke="#bff0ee" stroke-width="1.2"/>
<path d="M475.0 183.6 L478.6 181.8" fill="none" stroke="#ff2a3a" stroke-width="10.0" stroke-opacity="0.32" filter="url(#b2)" stroke-linejoin="round"/>
<path d="M475.0 183.6 L478.6 181.8" fill="none" stroke="#ff2a3a" stroke-width="4.5" stroke-opacity="0.85" filter="url(#b1)" stroke-linejoin="round"/>
<path d="M475.0 183.6 L478.6 181.8" fill="none" stroke="#d2f6f4" stroke-width="1.2" stroke-opacity="1" stroke-linejoin="round"/>
<g><ellipse transform="translate(470.60,184.00) rotate(-14.0)" rx="8.90" ry="18.20" fill="#1b1b1b"/><ellipse transform="translate(469.77,184.33) rotate(-14.0)" rx="8.90" ry="18.20" fill="#1b1b1b"/><ellipse transform="translate(468.93,184.67) rotate(-14.0)" rx="8.90" ry="18.20" fill="#363636"/><ellipse transform="translate(468.10,185.00) rotate(-14.0)" rx="8.90" ry="18.20" fill="#363636"/><ellipse transform="translate(467.27,185.33) rotate(-14.0)" rx="8.90" ry="18.20" fill="#1b1b1b"/><ellipse transform="translate(466.43,185.67) rotate(-14.0)" rx="8.90" ry="18.20" fill="#1b1b1b"/><ellipse transform="translate(465.60,186.00) rotate(-14.0)" rx="8.90" ry="18.20" fill="#1b1b1b"/><ellipse transform="translate(465.60,186.00) rotate(-14.0)" rx="8.90" ry="18.20" fill="#101010"/><ellipse transform="translate(465.60,186.00) rotate(-14.0)" rx="6.80" ry="16.10" fill="url(#rGreen)"/></g>
<path d="M466.8 169.0 l2.6 -1" stroke="#a8a8a8" stroke-width="1.3"/>
<ellipse transform="translate(465.6,187.5) rotate(-23)" rx="6.9" ry="2.8" fill="#ff3018" opacity="0.8" filter="url(#b1)"/>
<path d="M459.2 190.3 L472.0 184.7" stroke="#bff0ee" stroke-width="1.2"/>
<g><ellipse transform="translate(553.50,190.50) rotate(-14.0)" rx="8.90" ry="18.20" fill="#1b1b1b"/><ellipse transform="translate(552.67,190.83) rotate(-14.0)" rx="8.90" ry="18.20" fill="#1b1b1b"/><ellipse transform="translate(551.83,191.17) rotate(-14.0)" rx="8.90" ry="18.20" fill="#363636"/><ellipse transform="translate(551.00,191.50) rotate(-14.0)" rx="8.90" ry="18.20" fill="#363636"/><ellipse transform="translate(550.17,191.83) rotate(-14.0)" rx="8.90" ry="18.20" fill="#1b1b1b"/><ellipse transform="translate(549.33,192.17) rotate(-14.0)" rx="8.90" ry="18.20" fill="#1b1b1b"/><ellipse transform="translate(548.50,192.50) rotate(-14.0)" rx="8.90" ry="18.20" fill="#1b1b1b"/><ellipse transform="translate(548.50,192.50) rotate(-14.0)" rx="8.90" ry="18.20" fill="#101010"/><ellipse transform="translate(548.50,192.50) rotate(-14.0)" rx="6.80" ry="16.10" fill="url(#rGreen)"/></g>
<path d="M549.7 175.5 l2.6 -1" stroke="#a8a8a8" stroke-width="1.3"/>
<ellipse transform="translate(548.5,194.0) rotate(-23)" rx="6.9" ry="2.8" fill="#ff3018" opacity="0.8" filter="url(#b1)"/>
<path d="M542.1 196.8 L554.9 191.2" stroke="#bff0ee" stroke-width="1.2"/>
<path d="M541.5 196.7 L546.5 195.3" fill="none" stroke="#ff2a3a" stroke-width="10.0" stroke-opacity="0.32" filter="url(#b2)" stroke-linejoin="round"/>
<path d="M541.5 196.7 L546.5 195.3" fill="none" stroke="#ff2a3a" stroke-width="4.5" stroke-opacity="0.85" filter="url(#b1)" stroke-linejoin="round"/>
<path d="M541.5 196.7 L546.5 195.3" fill="none" stroke="#d2f6f4" stroke-width="1.2" stroke-opacity="1" stroke-linejoin="round"/>
<g><ellipse transform="translate(538.50,197.50) rotate(-14.0)" rx="8.90" ry="18.20" fill="#1b1b1b"/><ellipse transform="translate(537.67,197.83) rotate(-14.0)" rx="8.90" ry="18.20" fill="#1b1b1b"/><ellipse transform="translate(536.83,198.17) rotate(-14.0)" rx="8.90" ry="18.20" fill="#363636"/><ellipse transform="translate(536.00,198.50) rotate(-14.0)" rx="8.90" ry="18.20" fill="#363636"/><ellipse transform="translate(535.17,198.83) rotate(-14.0)" rx="8.90" ry="18.20" fill="#1b1b1b"/><ellipse transform="translate(534.33,199.17) rotate(-14.0)" rx="8.90" ry="18.20" fill="#1b1b1b"/><ellipse transform="translate(533.50,199.50) rotate(-14.0)" rx="8.90" ry="18.20" fill="#1b1b1b"/><ellipse transform="translate(533.50,199.50) rotate(-14.0)" rx="8.90" ry="18.20" fill="#101010"/><ellipse transform="translate(533.50,199.50) rotate(-14.0)" rx="6.80" ry="16.10" fill="url(#rPurple)"/></g>
<path d="M534.7 182.5 l2.6 -1" stroke="#a8a8a8" stroke-width="1.3"/>
<ellipse transform="translate(533.5,201.0) rotate(-23)" rx="6.9" ry="2.8" fill="#ff3018" opacity="0.8" filter="url(#b1)"/>
<path d="M527.1 203.8 L539.9 198.2" stroke="#bff0ee" stroke-width="1.2"/>
<path d="M526.5 203.7 L530.5 201.3" fill="none" stroke="#ff2a3a" stroke-width="10.0" stroke-opacity="0.32" filter="url(#b2)" stroke-linejoin="round"/>
<path d="M526.5 203.7 L530.5 201.3" fill="none" stroke="#ff2a3a" stroke-width="4.5" stroke-opacity="0.85" filter="url(#b1)" stroke-linejoin="round"/>
<path d="M526.5 203.7 L530.5 201.3" fill="none" stroke="#d2f6f4" stroke-width="1.2" stroke-opacity="1" stroke-linejoin="round"/>
<g><ellipse transform="translate(522.50,203.50) rotate(-14.0)" rx="8.90" ry="18.20" fill="#1b1b1b"/><ellipse transform="translate(521.67,203.83) rotate(-14.0)" rx="8.90" ry="18.20" fill="#1b1b1b"/><ellipse transform="translate(520.83,204.17) rotate(-14.0)" rx="8.90" ry="18.20" fill="#363636"/><ellipse transform="translate(520.00,204.50) rotate(-14.0)" rx="8.90" ry="18.20" fill="#363636"/><ellipse transform="translate(519.17,204.83) rotate(-14.0)" rx="8.90" ry="18.20" fill="#1b1b1b"/><ellipse transform="translate(518.33,205.17) rotate(-14.0)" rx="8.90" ry="18.20" fill="#1b1b1b"/><ellipse transform="translate(517.50,205.50) rotate(-14.0)" rx="8.90" ry="18.20" fill="#1b1b1b"/><ellipse transform="translate(517.50,205.50) rotate(-14.0)" rx="8.90" ry="18.20" fill="#101010"/><ellipse transform="translate(517.50,205.50) rotate(-14.0)" rx="6.80" ry="16.10" fill="url(#rGreen)"/></g>
<path d="M518.7 188.5 l2.6 -1" stroke="#a8a8a8" stroke-width="1.3"/>
<ellipse transform="translate(517.5,207.0) rotate(-23)" rx="6.9" ry="2.8" fill="#ff3018" opacity="0.8" filter="url(#b1)"/>
<path d="M511.1 209.8 L523.9 204.2" stroke="#bff0ee" stroke-width="1.2"/>
<path d="M510.5 209.7 L511.5 209.3" fill="none" stroke="#ff2a3a" stroke-width="10.0" stroke-opacity="0.32" filter="url(#b2)" stroke-linejoin="round"/>
<path d="M510.5 209.7 L511.5 209.3" fill="none" stroke="#ff2a3a" stroke-width="4.5" stroke-opacity="0.85" filter="url(#b1)" stroke-linejoin="round"/>
<path d="M510.5 209.7 L511.5 209.3" fill="none" stroke="#d2f6f4" stroke-width="1.2" stroke-opacity="1" stroke-linejoin="round"/>
<g><ellipse transform="translate(503.50,211.50) rotate(-14.0)" rx="8.90" ry="18.20" fill="#1b1b1b"/><ellipse transform="translate(502.67,211.83) rotate(-14.0)" rx="8.90" ry="18.20" fill="#1b1b1b"/><ellipse transform="translate(501.83,212.17) rotate(-14.0)" rx="8.90" ry="18.20" fill="#363636"/><ellipse transform="translate(501.00,212.50) rotate(-14.0)" rx="8.90" ry="18.20" fill="#363636"/><ellipse transform="translate(500.17,212.83) rotate(-14.0)" rx="8.90" ry="18.20" fill="#1b1b1b"/><ellipse transform="translate(499.33,213.17) rotate(-14.0)" rx="8.90" ry="18.20" fill="#1b1b1b"/><ellipse transform="translate(498.50,213.50) rotate(-14.0)" rx="8.90" ry="18.20" fill="#1b1b1b"/><ellipse transform="translate(498.50,213.50) rotate(-14.0)" rx="8.90" ry="18.20" fill="#101010"/><ellipse transform="translate(498.50,213.50) rotate(-14.0)" rx="6.80" ry="16.10" fill="url(#rPurple)"/></g>
<path d="M499.7 196.5 l2.6 -1" stroke="#a8a8a8" stroke-width="1.3"/>
<ellipse transform="translate(498.5,215.0) rotate(-23)" rx="6.9" ry="2.8" fill="#ff3018" opacity="0.8" filter="url(#b1)"/>
<path d="M492.1 217.8 L504.9 212.2" stroke="#bff0ee" stroke-width="1.2"/>
<path d="M491.0 218.5 L470.0 228.5" fill="none" stroke="#ff2a3a" stroke-width="10.5" stroke-opacity="0.32" filter="url(#b2)" stroke-linejoin="round"/>
<path d="M491.0 218.5 L470.0 228.5" fill="none" stroke="#ff2a3a" stroke-width="5.0" stroke-opacity="0.85" filter="url(#b1)" stroke-linejoin="round"/>
<path d="M491.0 218.5 L470.0 228.5" fill="none" stroke="#d2f6f4" stroke-width="1.2" stroke-opacity="1" stroke-linejoin="round"/>
<ellipse transform="translate(577.0,157.0) rotate(20.0)" rx="14.0" ry="10.0" fill="#ffffff" opacity="0.9" filter="url(#b2)"/>
<path d="M537.0 156.6 L583.3 137.5 L606.0 166.5" fill="none" stroke="#ff2a3a" stroke-width="10.5" stroke-opacity="0.32" filter="url(#b2)" stroke-linejoin="round"/>
<path d="M537.0 156.6 L583.3 137.5 L606.0 166.5" fill="none" stroke="#ff2a3a" stroke-width="5.0" stroke-opacity="0.85" filter="url(#b1)" stroke-linejoin="round"/>
<path d="M537.0 156.6 L583.3 137.5 L606.0 166.5" fill="none" stroke="#d2f6f4" stroke-width="1.2" stroke-opacity="1" stroke-linejoin="round"/>
<path d="M555.0 192.7 L603.0 172.5" fill="none" stroke="#ff2a3a" stroke-width="10.5" stroke-opacity="0.32" filter="url(#b2)" stroke-linejoin="round"/>
<path d="M555.0 192.7 L603.0 172.5" fill="none" stroke="#ff2a3a" stroke-width="5.0" stroke-opacity="0.85" filter="url(#b1)" stroke-linejoin="round"/>
<path d="M555.0 192.7 L603.0 172.5" fill="none" stroke="#d2f6f4" stroke-width="1.2" stroke-opacity="1" stroke-linejoin="round"/>
<g><ellipse transform="translate(582.70,134.10) rotate(20.0)" rx="18.00" ry="13.30" fill="#1b1b1b"/><ellipse transform="translate(583.10,133.20) rotate(20.0)" rx="18.00" ry="13.30" fill="#1b1b1b"/><ellipse transform="translate(583.50,132.30) rotate(20.0)" rx="18.00" ry="13.30" fill="#1b1b1b"/><ellipse transform="translate(583.50,132.30) rotate(20.0)" rx="18.00" ry="13.30" fill="#101010"/><ellipse transform="translate(583.50,132.30) rotate(20.0)" rx="14.80" ry="10.10" fill="url(#fMirrorU)"/></g>
<ellipse transform="translate(580,128.5) rotate(20)" rx="9" ry="4.5" fill="#ffffff" opacity="0.55" filter="url(#b1)"/>
<path d="M571.0 142.5 L583.3 137.5 L590.0 146.0" fill="none" stroke="#ff2a3a" stroke-width="3.0" stroke-opacity="0.6" filter="url(#b1)" stroke-linejoin="round"/>
<path d="M571.0 142.5 L583.3 137.5 L590.0 146.0" fill="none" stroke="#d2f6f4" stroke-width="1.1" stroke-opacity="1" stroke-linejoin="round"/>
<ellipse transform="translate(616.0,199.0) rotate(-22.0)" rx="18.0" ry="5.0" fill="#ffffff" opacity="0.6" filter="url(#b2)"/>
<polygon points="590.8,160.0 613.3,145.8 631.0,158.3 631.4,179.3 607.1,195.0 591.2,181.0" fill="#f1e6f9" fill-opacity="0.9799999999999999" stroke="#a884c8" stroke-width="1.2" stroke-opacity="0.8" stroke-linejoin="round" />
<polygon points="590.8,160.0 606.7,174.0 607.1,195.0 591.2,181.0" fill="#d6bcea" fill-opacity="1" />
<polygon points="606.7,174.0 631.0,158.3 631.4,179.3 607.1,195.0" fill="#f1e6f9" fill-opacity="0.7" />
<polygon points="590.8,160.0 613.3,145.8 631.0,158.3 606.7,174.0" fill="#f1e6f9" fill-opacity="0.84" />
<polygon points="595.1,159.9 612.7,148.8 626.5,158.6 607.5,170.8" fill="#ffffff" fill-opacity="0.3" stroke="#ffffff" stroke-width="0.7" stroke-opacity="0.6" stroke-linejoin="round" />
<path d="M590.8 160.0 L613.3 145.8 L631.0 158.3 L606.7 174.0 Z" stroke="#ffffff" stroke-width="1.3" stroke-opacity="0.95" fill="none" stroke-linejoin="round"/>
<path d="M606.7 174.0 L607.1 195.0 M590.8 160.0 L591.2 181.0 M631.0 158.3 L631.4 179.3" stroke="#ffffff" stroke-width="1.2" stroke-opacity="0.85" fill="none"/>
<path d="M591.2 181.0 L607.1 195.0 L631.4 179.3" stroke="#ffffff" stroke-width="1.4" stroke-opacity="0.9" fill="none" stroke-linejoin="round"/>
<path d="M613.3 145.8 L613.7 166.8 M591.2 181.0 L613.7 166.8 L631.4 179.3" stroke="#ffffff" stroke-width="0.7" stroke-opacity="0.5" fill="none"/>
<path d="M590.0 177.8 L604.0 172.0 L619.0 183.0" fill="none" stroke="#ff2a3a" stroke-width="3.0" stroke-opacity="0.45" filter="url(#b1)" stroke-linejoin="round"/>
<path d="M590.0 177.8 L604.0 172.0 L619.0 183.0" fill="none" stroke="#d2f6f4" stroke-width="1.1" stroke-opacity="1" stroke-linejoin="round"/>
<path d="M598.0 156.0 L606.0 166.5 L631.0 157.5" fill="none" stroke="#ff2a3a" stroke-width="3.0" stroke-opacity="0.45" filter="url(#b1)" stroke-linejoin="round"/>
<path d="M598.0 156.0 L606.0 166.5 L631.0 157.5" fill="none" stroke="#d2f6f4" stroke-width="1.1" stroke-opacity="1" stroke-linejoin="round"/>
<g transform="translate(625.3,187.0) rotate(57.0) scale(0.85)"><path d="M-8.5 -4.2 Q-1 -6.2 6 -7 Q10.5 -6.8 10.5 0 Q10.5 6.8 6 7 Q-1 6.2 -8.5 4.2 Q-11 0 -8.5 -4.2Z" fill="#161616"/><path d="M-5 -4.6 L-5 4.6 M-1 -5.3 L-1 5.3 M3 -6 L3 6" stroke="#3a3a3a" stroke-width="0.9" fill="none"/></g>
<ellipse transform="translate(648.0,180.0) rotate(-14.0)" rx="8.0" ry="9.0" fill="#78a39d" opacity="0.3" filter="url(#b2)"/>
<ellipse transform="translate(662.0,174.0) rotate(-14.0)" rx="8.0" ry="9.0" fill="#78a39d" opacity="0.3" filter="url(#b2)"/>
<ellipse transform="translate(676.0,168.0) rotate(-14.0)" rx="8.0" ry="9.0" fill="#78a39d" opacity="0.3" filter="url(#b2)"/>
<ellipse transform="translate(692.0,160.0) rotate(-14.0)" rx="8.0" ry="9.0" fill="#78a39d" opacity="0.3" filter="url(#b2)"/>
<path d="M631.0 157.5 L697.0 128.3" fill="none" stroke="#ff2a3a" stroke-width="10.5" stroke-opacity="0.32" filter="url(#b2)" stroke-linejoin="round"/>
<path d="M631.0 157.5 L697.0 128.3" fill="none" stroke="#ff2a3a" stroke-width="5.0" stroke-opacity="0.85" filter="url(#b1)" stroke-linejoin="round"/>
<path d="M631.0 157.5 L697.0 128.3" fill="none" stroke="#d2f6f4" stroke-width="1.2" stroke-opacity="1" stroke-linejoin="round"/>
<g><ellipse transform="translate(686.70,133.90) rotate(-14.0)" rx="9.40" ry="17.30" fill="#1b1b1b"/><ellipse transform="translate(685.96,134.20) rotate(-14.0)" rx="9.40" ry="17.30" fill="#1b1b1b"/><ellipse transform="translate(685.21,134.50) rotate(-14.0)" rx="9.40" ry="17.30" fill="#1b1b1b"/><ellipse transform="translate(684.47,134.80) rotate(-14.0)" rx="9.40" ry="17.30" fill="#363636"/><ellipse transform="translate(683.73,135.10) rotate(-14.0)" rx="9.40" ry="17.30" fill="#363636"/><ellipse transform="translate(682.99,135.40) rotate(-14.0)" rx="9.40" ry="17.30" fill="#1b1b1b"/><ellipse transform="translate(682.24,135.70) rotate(-14.0)" rx="9.40" ry="17.30" fill="#1b1b1b"/><ellipse transform="translate(681.50,136.00) rotate(-14.0)" rx="9.40" ry="17.30" fill="#1b1b1b"/><ellipse transform="translate(681.50,136.00) rotate(-14.0)" rx="9.40" ry="17.30" fill="#101010"/><ellipse transform="translate(681.50,136.00) rotate(-14.0)" rx="7.30" ry="15.20" fill="url(#rYellow)"/></g>
<path d="M682.7 119.9 l2.6 -1" stroke="#a8a8a8" stroke-width="1.3"/>
<ellipse transform="translate(681.5,137.5) rotate(-23)" rx="7.3" ry="2.8" fill="#ff3018" opacity="0.8" filter="url(#b1)"/>
<path d="M674.7 140.4 L688.3 134.6" stroke="#bff0ee" stroke-width="1.2"/>
<path d="M673.5 140.5 L679.5 139.0" fill="none" stroke="#ff2a3a" stroke-width="10.0" stroke-opacity="0.32" filter="url(#b2)" stroke-linejoin="round"/>
<path d="M673.5 140.5 L679.5 139.0" fill="none" stroke="#ff2a3a" stroke-width="4.5" stroke-opacity="0.85" filter="url(#b1)" stroke-linejoin="round"/>
<path d="M673.5 140.5 L679.5 139.0" fill="none" stroke="#d2f6f4" stroke-width="1.2" stroke-opacity="1" stroke-linejoin="round"/>
<g><ellipse transform="translate(671.70,141.40) rotate(-14.0)" rx="9.40" ry="17.80" fill="#1b1b1b"/><ellipse transform="translate(670.96,141.70) rotate(-14.0)" rx="9.40" ry="17.80" fill="#1b1b1b"/><ellipse transform="translate(670.21,142.00) rotate(-14.0)" rx="9.40" ry="17.80" fill="#1b1b1b"/><ellipse transform="translate(669.47,142.30) rotate(-14.0)" rx="9.40" ry="17.80" fill="#363636"/><ellipse transform="translate(668.73,142.60) rotate(-14.0)" rx="9.40" ry="17.80" fill="#363636"/><ellipse transform="translate(667.99,142.90) rotate(-14.0)" rx="9.40" ry="17.80" fill="#1b1b1b"/><ellipse transform="translate(667.24,143.20) rotate(-14.0)" rx="9.40" ry="17.80" fill="#1b1b1b"/><ellipse transform="translate(666.50,143.50) rotate(-14.0)" rx="9.40" ry="17.80" fill="#1b1b1b"/><ellipse transform="translate(666.50,143.50) rotate(-14.0)" rx="9.40" ry="17.80" fill="#101010"/><ellipse transform="translate(666.50,143.50) rotate(-14.0)" rx="7.30" ry="15.70" fill="url(#rDark)"/></g>
<path d="M667.7 126.9 l2.6 -1" stroke="#a8a8a8" stroke-width="1.3"/>
<ellipse transform="translate(666.5,145.0) rotate(-23)" rx="7.3" ry="2.8" fill="#ff3018" opacity="0.8" filter="url(#b1)"/>
<path d="M659.7 147.9 L673.3 142.1" stroke="#bff0ee" stroke-width="1.2"/>
<path d="M658.5 148.0 L666.0 145.0" fill="none" stroke="#ff2a3a" stroke-width="10.0" stroke-opacity="0.32" filter="url(#b2)" stroke-linejoin="round"/>
<path d="M658.5 148.0 L666.0 145.0" fill="none" stroke="#ff2a3a" stroke-width="4.5" stroke-opacity="0.85" filter="url(#b1)" stroke-linejoin="round"/>
<path d="M658.5 148.0 L666.0 145.0" fill="none" stroke="#d2f6f4" stroke-width="1.2" stroke-opacity="1" stroke-linejoin="round"/>
<g><ellipse transform="translate(658.20,147.40) rotate(-14.0)" rx="9.40" ry="18.20" fill="#1b1b1b"/><ellipse transform="translate(657.46,147.70) rotate(-14.0)" rx="9.40" ry="18.20" fill="#1b1b1b"/><ellipse transform="translate(656.71,148.00) rotate(-14.0)" rx="9.40" ry="18.20" fill="#1b1b1b"/><ellipse transform="translate(655.97,148.30) rotate(-14.0)" rx="9.40" ry="18.20" fill="#363636"/><ellipse transform="translate(655.23,148.60) rotate(-14.0)" rx="9.40" ry="18.20" fill="#363636"/><ellipse transform="translate(654.49,148.90) rotate(-14.0)" rx="9.40" ry="18.20" fill="#1b1b1b"/><ellipse transform="translate(653.74,149.20) rotate(-14.0)" rx="9.40" ry="18.20" fill="#1b1b1b"/><ellipse transform="translate(653.00,149.50) rotate(-14.0)" rx="9.40" ry="18.20" fill="#1b1b1b"/><ellipse transform="translate(653.00,149.50) rotate(-14.0)" rx="9.40" ry="18.20" fill="#101010"/><ellipse transform="translate(653.00,149.50) rotate(-14.0)" rx="7.30" ry="16.10" fill="url(#rGreen)"/></g>
<path d="M654.2 132.5 l2.6 -1" stroke="#a8a8a8" stroke-width="1.3"/>
<ellipse transform="translate(653.0,151.0) rotate(-23)" rx="7.3" ry="2.8" fill="#ff3018" opacity="0.8" filter="url(#b1)"/>
<path d="M646.2 153.9 L659.8 148.1" stroke="#bff0ee" stroke-width="1.2"/>
<path d="M645.0 154.0 L651.0 151.0" fill="none" stroke="#ff2a3a" stroke-width="10.0" stroke-opacity="0.32" filter="url(#b2)" stroke-linejoin="round"/>
<path d="M645.0 154.0 L651.0 151.0" fill="none" stroke="#ff2a3a" stroke-width="4.5" stroke-opacity="0.85" filter="url(#b1)" stroke-linejoin="round"/>
<path d="M645.0 154.0 L651.0 151.0" fill="none" stroke="#d2f6f4" stroke-width="1.2" stroke-opacity="1" stroke-linejoin="round"/>
<g><ellipse transform="translate(643.20,153.40) rotate(-14.0)" rx="9.40" ry="18.60" fill="#1b1b1b"/><ellipse transform="translate(642.46,153.70) rotate(-14.0)" rx="9.40" ry="18.60" fill="#1b1b1b"/><ellipse transform="translate(641.71,154.00) rotate(-14.0)" rx="9.40" ry="18.60" fill="#1b1b1b"/><ellipse transform="translate(640.97,154.30) rotate(-14.0)" rx="9.40" ry="18.60" fill="#363636"/><ellipse transform="translate(640.23,154.60) rotate(-14.0)" rx="9.40" ry="18.60" fill="#363636"/><ellipse transform="translate(639.49,154.90) rotate(-14.0)" rx="9.40" ry="18.60" fill="#1b1b1b"/><ellipse transform="translate(638.74,155.20) rotate(-14.0)" rx="9.40" ry="18.60" fill="#1b1b1b"/><ellipse transform="translate(638.00,155.50) rotate(-14.0)" rx="9.40" ry="18.60" fill="#1b1b1b"/><ellipse transform="translate(638.00,155.50) rotate(-14.0)" rx="9.40" ry="18.60" fill="#101010"/><ellipse transform="translate(638.00,155.50) rotate(-14.0)" rx="7.30" ry="16.50" fill="url(#rPurple)"/></g>
<path d="M639.2 138.1 l2.6 -1" stroke="#a8a8a8" stroke-width="1.3"/>
<ellipse transform="translate(638.0,157.0) rotate(-23)" rx="7.3" ry="2.8" fill="#ff3018" opacity="0.8" filter="url(#b1)"/>
<path d="M631.2 159.9 L644.8 154.1" stroke="#bff0ee" stroke-width="1.2"/>
<path d="M689.0 132.0 L696.0 129.0" fill="none" stroke="#ff2a3a" stroke-width="10.0" stroke-opacity="0.32" filter="url(#b2)" stroke-linejoin="round"/>
<path d="M689.0 132.0 L696.0 129.0" fill="none" stroke="#ff2a3a" stroke-width="4.5" stroke-opacity="0.85" filter="url(#b1)" stroke-linejoin="round"/>
<path d="M689.0 132.0 L696.0 129.0" fill="none" stroke="#d2f6f4" stroke-width="1.2" stroke-opacity="1" stroke-linejoin="round"/>
<g transform="translate(696.5,128.5) rotate(-22.2) scale(0.959,0.980)"><path d="M24 -1.9 L40 -1.0 L40 1.0 L24 1.9Z" fill="#b8b4ac"/><rect x="16" y="-2.9" width="8.5" height="5.8" rx="1" fill="url(#gCyl)"/><rect x="0" y="-6.2" width="10.5" height="12.4" fill="url(#gCyl)"/><ellipse cx="0" cy="0" rx="2.4" ry="6.2" fill="#4a4270"/><ellipse cx="0" cy="0" rx="2.4" ry="6.2" fill="none" stroke="#d8d6d0" stroke-width="0.9"/><rect x="9.5" y="-7.1" width="7.6" height="14.2" rx="3" fill="#151515"/></g>
<path d="M731.7 114.2 C727 111.5,722 111.3,717.5 110.5 S703 108,695 106.7 S676 104,671 99" fill="none" stroke="#d8bc2e" stroke-width="1.5" stroke-linecap="round"/>
<path d="M700 117 C690 112,678 108,672 101" fill="none" stroke="#e0d070" stroke-width="0.8" opacity="0.6"/>
<path d="M270 386.5 L313 371.3" stroke="#e6b6e6" stroke-width="6.5" stroke-opacity="0.9" fill="none"/>
<path d="M271.8 392.3 L314.8 377.1" stroke="#f6eef4" stroke-width="4.5" stroke-opacity="0.95" fill="none"/>
<ellipse transform="translate(272.0,385.9) rotate(-20)" rx="1.1" ry="2.8" fill="#f4dcf2" stroke="#c060bc" stroke-width="0.8"/>
<ellipse transform="translate(273.5,391.9) rotate(-20)" rx="1.0" ry="1.8" fill="none" stroke="#e6cfe4" stroke-width="0.7" opacity="0.9"/>
<ellipse transform="translate(274.9,384.9) rotate(-20)" rx="1.1" ry="2.8" fill="#f4dcf2" stroke="#c060bc" stroke-width="0.8"/>
<ellipse transform="translate(276.4,390.9) rotate(-20)" rx="1.0" ry="1.8" fill="none" stroke="#e6cfe4" stroke-width="0.7" opacity="0.9"/>
<ellipse transform="translate(277.8,383.8) rotate(-20)" rx="1.1" ry="2.8" fill="#f4dcf2" stroke="#c060bc" stroke-width="0.8"/>
<ellipse transform="translate(279.3,389.8) rotate(-20)" rx="1.0" ry="1.8" fill="none" stroke="#e6cfe4" stroke-width="0.7" opacity="0.9"/>
<ellipse transform="translate(280.7,382.8) rotate(-20)" rx="1.1" ry="2.8" fill="#f4dcf2" stroke="#c060bc" stroke-width="0.8"/>
<ellipse transform="translate(282.2,388.8) rotate(-20)" rx="1.0" ry="1.8" fill="none" stroke="#e6cfe4" stroke-width="0.7" opacity="0.9"/>
<ellipse transform="translate(283.6,381.8) rotate(-20)" rx="1.1" ry="2.8" fill="#f4dcf2" stroke="#c060bc" stroke-width="0.8"/>
<ellipse transform="translate(285.1,387.8) rotate(-20)" rx="1.0" ry="1.8" fill="none" stroke="#e6cfe4" stroke-width="0.7" opacity="0.9"/>
<ellipse transform="translate(286.5,380.8) rotate(-20)" rx="1.1" ry="2.8" fill="#f4dcf2" stroke="#c060bc" stroke-width="0.8"/>
<ellipse transform="translate(288.0,386.8) rotate(-20)" rx="1.0" ry="1.8" fill="none" stroke="#e6cfe4" stroke-width="0.7" opacity="0.9"/>
<ellipse transform="translate(289.4,379.7) rotate(-20)" rx="1.1" ry="2.8" fill="#f4dcf2" stroke="#c060bc" stroke-width="0.8"/>
<ellipse transform="translate(290.9,385.7) rotate(-20)" rx="1.0" ry="1.8" fill="none" stroke="#e6cfe4" stroke-width="0.7" opacity="0.9"/>
<ellipse transform="translate(292.3,378.7) rotate(-20)" rx="1.1" ry="2.8" fill="#f4dcf2" stroke="#c060bc" stroke-width="0.8"/>
<ellipse transform="translate(293.8,384.7) rotate(-20)" rx="1.0" ry="1.8" fill="none" stroke="#e6cfe4" stroke-width="0.7" opacity="0.9"/>
<ellipse transform="translate(295.2,377.7) rotate(-20)" rx="1.1" ry="2.8" fill="#f4dcf2" stroke="#c060bc" stroke-width="0.8"/>
<ellipse transform="translate(296.7,383.7) rotate(-20)" rx="1.0" ry="1.8" fill="none" stroke="#e6cfe4" stroke-width="0.7" opacity="0.9"/>
<ellipse transform="translate(298.1,376.6) rotate(-20)" rx="1.1" ry="2.8" fill="#f4dcf2" stroke="#c060bc" stroke-width="0.8"/>
<ellipse transform="translate(299.6,382.6) rotate(-20)" rx="1.0" ry="1.8" fill="none" stroke="#e6cfe4" stroke-width="0.7" opacity="0.9"/>
<ellipse transform="translate(301.0,375.6) rotate(-20)" rx="1.1" ry="2.8" fill="#f4dcf2" stroke="#c060bc" stroke-width="0.8"/>
<ellipse transform="translate(302.5,381.6) rotate(-20)" rx="1.0" ry="1.8" fill="none" stroke="#e6cfe4" stroke-width="0.7" opacity="0.9"/>
<ellipse transform="translate(303.9,374.6) rotate(-20)" rx="1.1" ry="2.8" fill="#f4dcf2" stroke="#c060bc" stroke-width="0.8"/>
<ellipse transform="translate(305.4,380.6) rotate(-20)" rx="1.0" ry="1.8" fill="none" stroke="#e6cfe4" stroke-width="0.7" opacity="0.9"/>
<ellipse transform="translate(306.8,373.5) rotate(-20)" rx="1.1" ry="2.8" fill="#f4dcf2" stroke="#c060bc" stroke-width="0.8"/>
<ellipse transform="translate(308.3,379.5) rotate(-20)" rx="1.0" ry="1.8" fill="none" stroke="#e6cfe4" stroke-width="0.7" opacity="0.9"/>
<ellipse transform="translate(309.7,372.5) rotate(-20)" rx="1.1" ry="2.8" fill="#f4dcf2" stroke="#c060bc" stroke-width="0.8"/>
<ellipse transform="translate(311.2,378.5) rotate(-20)" rx="1.0" ry="1.8" fill="none" stroke="#e6cfe4" stroke-width="0.7" opacity="0.9"/>
<ellipse transform="translate(312.6,371.5) rotate(-20)" rx="1.1" ry="2.8" fill="#f4dcf2" stroke="#c060bc" stroke-width="0.8"/>
<ellipse transform="translate(314.1,377.5) rotate(-20)" rx="1.0" ry="1.8" fill="none" stroke="#e6cfe4" stroke-width="0.7" opacity="0.9"/>
<ellipse transform="translate(300.0,433.2) rotate(-20.0)" rx="5.0" ry="4.0" fill="#b8bca8" opacity="0.35" filter="url(#b2)"/>
<g><ellipse transform="translate(303.60,412.60) rotate(-15.0)" rx="6.80" ry="20.50" fill="#1b1b1b"/><ellipse transform="translate(302.80,412.91) rotate(-15.0)" rx="6.80" ry="20.50" fill="#1b1b1b"/><ellipse transform="translate(302.00,413.23) rotate(-15.0)" rx="6.80" ry="20.50" fill="#1b1b1b"/><ellipse transform="translate(301.20,413.54) rotate(-15.0)" rx="6.80" ry="20.50" fill="#363636"/><ellipse transform="translate(300.40,413.86) rotate(-15.0)" rx="6.80" ry="20.50" fill="#363636"/><ellipse transform="translate(299.60,414.17) rotate(-15.0)" rx="6.80" ry="20.50" fill="#1b1b1b"/><ellipse transform="translate(298.80,414.49) rotate(-15.0)" rx="6.80" ry="20.50" fill="#1b1b1b"/><ellipse transform="translate(298.00,414.80) rotate(-15.0)" rx="6.80" ry="20.50" fill="#1b1b1b"/><ellipse transform="translate(298.00,414.80) rotate(-15.0)" rx="6.80" ry="20.50" fill="#101010"/><ellipse transform="translate(298.00,414.80) rotate(-15.0)" rx="4.90" ry="18.60" fill="url(#fBlue)"/></g>
<ellipse transform="translate(369.5,355.5) rotate(-20.0)" rx="5.0" ry="4.0" fill="#b8bca8" opacity="0.35" filter="url(#b2)"/>
<g><ellipse transform="translate(372.70,335.40) rotate(-15.0)" rx="7.00" ry="20.00" fill="#1b1b1b"/><ellipse transform="translate(371.96,335.70) rotate(-15.0)" rx="7.00" ry="20.00" fill="#1b1b1b"/><ellipse transform="translate(371.21,336.00) rotate(-15.0)" rx="7.00" ry="20.00" fill="#1b1b1b"/><ellipse transform="translate(370.47,336.30) rotate(-15.0)" rx="7.00" ry="20.00" fill="#363636"/><ellipse transform="translate(369.73,336.60) rotate(-15.0)" rx="7.00" ry="20.00" fill="#363636"/><ellipse transform="translate(368.99,336.90) rotate(-15.0)" rx="7.00" ry="20.00" fill="#1b1b1b"/><ellipse transform="translate(368.24,337.20) rotate(-15.0)" rx="7.00" ry="20.00" fill="#1b1b1b"/><ellipse transform="translate(367.50,337.50) rotate(-15.0)" rx="7.00" ry="20.00" fill="#1b1b1b"/><ellipse transform="translate(367.50,337.50) rotate(-15.0)" rx="7.00" ry="20.00" fill="#101010"/><ellipse transform="translate(367.50,337.50) rotate(-15.0)" rx="5.10" ry="18.10" fill="url(#fDark)"/></g>
<ellipse transform="translate(391.0,390.5) rotate(-20.0)" rx="5.0" ry="4.0" fill="#b8bca8" opacity="0.35" filter="url(#b2)"/>
<g><ellipse transform="translate(394.20,370.40) rotate(-15.0)" rx="7.00" ry="20.00" fill="#1b1b1b"/><ellipse transform="translate(393.46,370.70) rotate(-15.0)" rx="7.00" ry="20.00" fill="#1b1b1b"/><ellipse transform="translate(392.71,371.00) rotate(-15.0)" rx="7.00" ry="20.00" fill="#1b1b1b"/><ellipse transform="translate(391.97,371.30) rotate(-15.0)" rx="7.00" ry="20.00" fill="#363636"/><ellipse transform="translate(391.23,371.60) rotate(-15.0)" rx="7.00" ry="20.00" fill="#363636"/><ellipse transform="translate(390.49,371.90) rotate(-15.0)" rx="7.00" ry="20.00" fill="#1b1b1b"/><ellipse transform="translate(389.74,372.20) rotate(-15.0)" rx="7.00" ry="20.00" fill="#1b1b1b"/><ellipse transform="translate(389.00,372.50) rotate(-15.0)" rx="7.00" ry="20.00" fill="#1b1b1b"/><ellipse transform="translate(389.00,372.50) rotate(-15.0)" rx="7.00" ry="20.00" fill="#101010"/><ellipse transform="translate(389.00,372.50) rotate(-15.0)" rx="5.10" ry="18.10" fill="url(#fGreen)"/></g>
<ellipse transform="translate(374.0,399.0) rotate(-20.0)" rx="5.0" ry="4.0" fill="#b8bca8" opacity="0.35" filter="url(#b2)"/>
<g><ellipse transform="translate(377.20,378.90) rotate(-15.0)" rx="7.00" ry="20.00" fill="#1b1b1b"/><ellipse transform="translate(376.46,379.20) rotate(-15.0)" rx="7.00" ry="20.00" fill="#1b1b1b"/><ellipse transform="translate(375.71,379.50) rotate(-15.0)" rx="7.00" ry="20.00" fill="#1b1b1b"/><ellipse transform="translate(374.97,379.80) rotate(-15.0)" rx="7.00" ry="20.00" fill="#363636"/><ellipse transform="translate(374.23,380.10) rotate(-15.0)" rx="7.00" ry="20.00" fill="#363636"/><ellipse transform="translate(373.49,380.40) rotate(-15.0)" rx="7.00" ry="20.00" fill="#1b1b1b"/><ellipse transform="translate(372.74,380.70) rotate(-15.0)" rx="7.00" ry="20.00" fill="#1b1b1b"/><ellipse transform="translate(372.00,381.00) rotate(-15.0)" rx="7.00" ry="20.00" fill="#1b1b1b"/><ellipse transform="translate(372.00,381.00) rotate(-15.0)" rx="7.00" ry="20.00" fill="#101010"/><ellipse transform="translate(372.00,381.00) rotate(-15.0)" rx="5.10" ry="18.10" fill="url(#fGreenL)"/></g>
<ellipse transform="translate(452.5,363.1) rotate(-20.0)" rx="5.0" ry="4.0" fill="#b8bca8" opacity="0.35" filter="url(#b2)"/>
<g><ellipse transform="translate(455.70,343.90) rotate(-15.0)" rx="7.00" ry="19.00" fill="#1b1b1b"/><ellipse transform="translate(454.96,344.20) rotate(-15.0)" rx="7.00" ry="19.00" fill="#1b1b1b"/><ellipse transform="translate(454.21,344.50) rotate(-15.0)" rx="7.00" ry="19.00" fill="#1b1b1b"/><ellipse transform="translate(453.47,344.80) rotate(-15.0)" rx="7.00" ry="19.00" fill="#363636"/><ellipse transform="translate(452.73,345.10) rotate(-15.0)" rx="7.00" ry="19.00" fill="#363636"/><ellipse transform="translate(451.99,345.40) rotate(-15.0)" rx="7.00" ry="19.00" fill="#1b1b1b"/><ellipse transform="translate(451.24,345.70) rotate(-15.0)" rx="7.00" ry="19.00" fill="#1b1b1b"/><ellipse transform="translate(450.50,346.00) rotate(-15.0)" rx="7.00" ry="19.00" fill="#1b1b1b"/><ellipse transform="translate(450.50,346.00) rotate(-15.0)" rx="7.00" ry="19.00" fill="#101010"/><ellipse transform="translate(450.50,346.00) rotate(-15.0)" rx="5.10" ry="17.10" fill="url(#fPurpleL)"/></g>
<ellipse transform="translate(502.0,295.6) rotate(-20.0)" rx="5.0" ry="4.0" fill="#b8bca8" opacity="0.35" filter="url(#b2)"/>
<g><ellipse transform="translate(504.80,276.10) rotate(-15.0)" rx="7.20" ry="19.50" fill="#1b1b1b"/><ellipse transform="translate(504.00,276.42) rotate(-15.0)" rx="7.20" ry="19.50" fill="#1b1b1b"/><ellipse transform="translate(503.20,276.73) rotate(-15.0)" rx="7.20" ry="19.50" fill="#363636"/><ellipse transform="translate(502.40,277.05) rotate(-15.0)" rx="7.20" ry="19.50" fill="#363636"/><ellipse transform="translate(501.60,277.37) rotate(-15.0)" rx="7.20" ry="19.50" fill="#1b1b1b"/><ellipse transform="translate(500.80,277.68) rotate(-15.0)" rx="7.20" ry="19.50" fill="#1b1b1b"/><ellipse transform="translate(500.00,278.00) rotate(-15.0)" rx="7.20" ry="19.50" fill="#1b1b1b"/><ellipse transform="translate(500.00,278.00) rotate(-15.0)" rx="7.20" ry="19.50" fill="#101010"/><ellipse transform="translate(500.00,278.00) rotate(-15.0)" rx="5.30" ry="17.60" fill="url(#fOrange)"/></g>
<ellipse transform="translate(568.0,268.0) rotate(-20.0)" rx="5.0" ry="4.0" fill="#b8bca8" opacity="0.35" filter="url(#b2)"/>
<g><ellipse transform="translate(567.90,249.50) rotate(-14.0)" rx="9.50" ry="19.50" fill="#1b1b1b"/><ellipse transform="translate(567.10,249.83) rotate(-14.0)" rx="9.50" ry="19.50" fill="#1b1b1b"/><ellipse transform="translate(566.30,250.17) rotate(-14.0)" rx="9.50" ry="19.50" fill="#1b1b1b"/><ellipse transform="translate(565.50,250.50) rotate(-14.0)" rx="9.50" ry="19.50" fill="#1b1b1b"/><ellipse transform="translate(565.50,250.50) rotate(-14.0)" rx="9.50" ry="19.50" fill="#101010"/><ellipse transform="translate(565.50,250.50) rotate(-14.0)" rx="6.70" ry="16.70" fill="url(#fMirror)"/></g>
<ellipse transform="translate(456.0,319.0) rotate(-20.0)" rx="5.0" ry="4.0" fill="#b8bca8" opacity="0.3" filter="url(#b2)"/>
<ellipse transform="translate(448.2,301.3) rotate(-21)" rx="7.6" ry="19" fill="url(#fLensG)" opacity="0.95"/>
<ellipse transform="translate(447,301.3) rotate(-21)" rx="4" ry="15.5" fill="#dfe4e7" opacity="0.35"/>
<ellipse transform="translate(696.5,209.0) rotate(-14.0)" rx="6.0" ry="11.0" fill="#e6cc98" opacity="0.7" filter="url(#b2)"/>
<g><ellipse transform="translate(710.90,187.00) rotate(-18.0)" rx="10.30" ry="17.60" fill="#1b1b1b"/><ellipse transform="translate(710.13,187.27) rotate(-18.0)" rx="10.30" ry="17.60" fill="#1b1b1b"/><ellipse transform="translate(709.37,187.53) rotate(-18.0)" rx="10.30" ry="17.60" fill="#363636"/><ellipse transform="translate(708.60,187.80) rotate(-18.0)" rx="10.30" ry="17.60" fill="#363636"/><ellipse transform="translate(707.83,188.07) rotate(-18.0)" rx="10.30" ry="17.60" fill="#1b1b1b"/><ellipse transform="translate(707.07,188.33) rotate(-18.0)" rx="10.30" ry="17.60" fill="#1b1b1b"/><ellipse transform="translate(706.30,188.60) rotate(-18.0)" rx="10.30" ry="17.60" fill="#1b1b1b"/><ellipse transform="translate(706.30,188.60) rotate(-18.0)" rx="10.30" ry="17.60" fill="#101010"/><ellipse transform="translate(706.30,188.60) rotate(-18.0)" rx="8.00" ry="15.30" fill="url(#rYellowI)"/></g>
<ellipse transform="translate(708.3,188) rotate(-18)" rx="9.4" ry="16.6" fill="none" stroke="#e8502a" stroke-width="0.9" opacity="0.75"/>
<g transform="translate(641.0,221.8) rotate(-22.0) scale(1.00)"><path d="M-8.5 -4.2 Q-1 -6.2 6 -7 Q10.5 -6.8 10.5 0 Q10.5 6.8 6 7 Q-1 6.2 -8.5 4.2 Q-11 0 -8.5 -4.2Z" fill="#161616"/><path d="M-5 -4.6 L-5 4.6 M-1 -5.3 L-1 5.3 M3 -6 L3 6" stroke="#3a3a3a" stroke-width="0.9" fill="none"/></g>
<polygon points="503.5,317.0 521.0,305.5 537.5,319.0 538.0,329.5 520.0,341.0 504.0,327.5" fill="#a8c2f2" fill-opacity="0.875" stroke="#7a9ce0" stroke-width="1.2" stroke-opacity="0.8" stroke-linejoin="round" />
<polygon points="503.5,317.0 519.5,330.5 520.0,341.0 504.0,327.5" fill="#8aacec" fill-opacity="1" />
<polygon points="519.5,330.5 537.5,319.0 538.0,329.5 520.0,341.0" fill="#a8c2f2" fill-opacity="0.625" />
<polygon points="503.5,317.0 521.0,305.5 537.5,319.0 519.5,330.5" fill="#a8c2f2" fill-opacity="0.75" />
<polygon points="507.2,317.2 520.9,308.2 533.7,318.8 519.7,327.8" fill="#ffffff" fill-opacity="0.3" stroke="#ffffff" stroke-width="0.7" stroke-opacity="0.6" stroke-linejoin="round" />
<path d="M503.5 317.0 L521.0 305.5 L537.5 319.0 L519.5 330.5 Z" stroke="#f6f9ff" stroke-width="1.3" stroke-opacity="0.95" fill="none" stroke-linejoin="round"/>
<path d="M519.5 330.5 L520.0 341.0 M503.5 317.0 L504.0 327.5 M537.5 319.0 L538.0 329.5" stroke="#f6f9ff" stroke-width="1.2" stroke-opacity="0.85" fill="none"/>
<path d="M504.0 327.5 L520.0 341.0 L538.0 329.5" stroke="#f6f9ff" stroke-width="1.4" stroke-opacity="0.9" fill="none" stroke-linejoin="round"/>
<path d="M521.0 305.5 L521.5 316.0 M504.0 327.5 L521.5 316.0 L538.0 329.5" stroke="#f6f9ff" stroke-width="0.7" stroke-opacity="0.5" fill="none"/>
<polygon points="582.0,284.0 599.5,271.5 615.0,284.5 615.5,294.5 598.0,306.0 582.5,294.0" fill="#eccaac" fill-opacity="0.875" stroke="#d4a684" stroke-width="1.2" stroke-opacity="0.8" stroke-linejoin="round" />
<polygon points="582.0,284.0 597.5,296.0 598.0,306.0 582.5,294.0" fill="#e4b894" fill-opacity="1" />
<polygon points="597.5,296.0 615.0,284.5 615.5,294.5 598.0,306.0" fill="#eccaac" fill-opacity="0.625" />
<polygon points="582.0,284.0 599.5,271.5 615.0,284.5 597.5,296.0" fill="#eccaac" fill-opacity="0.75" />
<polygon points="585.6,284.0 599.3,274.2 611.4,284.4 597.7,293.4" fill="#ffffff" fill-opacity="0.3" stroke="#ffffff" stroke-width="0.7" stroke-opacity="0.6" stroke-linejoin="round" />
<path d="M582.0 284.0 L599.5 271.5 L615.0 284.5 L597.5 296.0 Z" stroke="#fff8f2" stroke-width="1.3" stroke-opacity="0.95" fill="none" stroke-linejoin="round"/>
<path d="M597.5 296.0 L598.0 306.0 M582.0 284.0 L582.5 294.0 M615.0 284.5 L615.5 294.5" stroke="#fff8f2" stroke-width="1.2" stroke-opacity="0.85" fill="none"/>
<path d="M582.5 294.0 L598.0 306.0 L615.5 294.5" stroke="#fff8f2" stroke-width="1.4" stroke-opacity="0.9" fill="none" stroke-linejoin="round"/>
<path d="M599.5 271.5 L600.0 281.5 M582.5 294.0 L600.0 281.5 L615.5 294.5" stroke="#fff8f2" stroke-width="0.7" stroke-opacity="0.5" fill="none"/>
<polygon points="660.5,248.0 678.5,234.7 693.5,247.5 694.0,257.2 676.0,267.7 661.0,257.7" fill="#e4d8f0" fill-opacity="0.875" stroke="#c4b0d8" stroke-width="1.2" stroke-opacity="0.8" stroke-linejoin="round" />
<polygon points="660.5,248.0 675.5,258.0 676.0,267.7 661.0,257.7" fill="#d6c6e8" fill-opacity="1" />
<polygon points="675.5,258.0 693.5,247.5 694.0,257.2 676.0,267.7" fill="#e4d8f0" fill-opacity="0.625" />
<polygon points="660.5,248.0 678.5,234.7 693.5,247.5 675.5,258.0" fill="#e4d8f0" fill-opacity="0.75" />
<polygon points="664.1,247.8 678.2,237.4 689.9,247.4 675.8,255.6" fill="#ffffff" fill-opacity="0.3" stroke="#ffffff" stroke-width="0.7" stroke-opacity="0.6" stroke-linejoin="round" />
<path d="M660.5 248.0 L678.5 234.7 L693.5 247.5 L675.5 258.0 Z" stroke="#ffffff" stroke-width="1.3" stroke-opacity="0.95" fill="none" stroke-linejoin="round"/>
<path d="M675.5 258.0 L676.0 267.7 M660.5 248.0 L661.0 257.7 M693.5 247.5 L694.0 257.2" stroke="#ffffff" stroke-width="1.2" stroke-opacity="0.85" fill="none"/>
<path d="M661.0 257.7 L676.0 267.7 L694.0 257.2" stroke="#ffffff" stroke-width="1.4" stroke-opacity="0.9" fill="none" stroke-linejoin="round"/>
<path d="M678.5 234.7 L679.0 244.4 M661.0 257.7 L679.0 244.4 L694.0 257.2" stroke="#ffffff" stroke-width="0.7" stroke-opacity="0.5" fill="none"/>
<polygon points="714.5,216.7 730.0,202.0 751.0,224.5 752.0,234.0 738.0,248.3 715.5,226.2" fill="#bccad3" fill-opacity="0.9799999999999999" stroke="#8898a6" stroke-width="1.2" stroke-opacity="0.8" stroke-linejoin="round" />
<polygon points="714.5,216.7 737.0,238.8 738.0,248.3 715.5,226.2" fill="#a3b2be" fill-opacity="1" />
<polygon points="737.0,238.8 751.0,224.5 752.0,234.0 738.0,248.3" fill="#bccad3" fill-opacity="0.7" />
<polygon points="714.5,216.7 730.0,202.0 751.0,224.5 737.0,238.8" fill="#bccad3" fill-opacity="0.84" />
<polygon points="718.6,217.5 730.7,206.1 747.1,223.6 736.1,234.8" fill="#ffffff" fill-opacity="0.3" stroke="#ffffff" stroke-width="0.7" stroke-opacity="0.6" stroke-linejoin="round" />
<path d="M714.5 216.7 L730.0 202.0 L751.0 224.5 L737.0 238.8 Z" stroke="#ffffff" stroke-width="1.3" stroke-opacity="0.95" fill="none" stroke-linejoin="round"/>
<path d="M737.0 238.8 L738.0 248.3 M714.5 216.7 L715.5 226.2 M751.0 224.5 L752.0 234.0" stroke="#ffffff" stroke-width="1.2" stroke-opacity="0.85" fill="none"/>
<path d="M715.5 226.2 L738.0 248.3 L752.0 234.0" stroke="#ffffff" stroke-width="1.4" stroke-opacity="0.9" fill="none" stroke-linejoin="round"/>
<path d="M730.0 202.0 L731.0 211.5 M715.5 226.2 L731.0 211.5 L752.0 234.0" stroke="#ffffff" stroke-width="0.7" stroke-opacity="0.5" fill="none"/>
<g opacity="0.995" stroke="#1e1e1e" stroke-width="0.3" stroke-opacity="0.9">
<text transform="translate(203.0,258.8) rotate(-22.5)" font-family="&quot;Liberation Sans&quot;, sans-serif" font-size="14.8" fill="#2a2a2a" textLength="75.2" lengthAdjust="spacingAndGlyphs" >Preparation</text>
<text transform="translate(151.5,507.5) rotate(-23.0)" font-family="&quot;Liberation Sans&quot;, sans-serif" font-size="14.8" fill="#2a2a2a" textLength="89.6" lengthAdjust="spacingAndGlyphs" >SPDC Source</text>
<text transform="translate(580.3,101.2) rotate(-22.8)" font-family="&quot;Liberation Sans&quot;, sans-serif" font-size="16.0" fill="#1e1e1e" textLength="87.6" lengthAdjust="spacingAndGlyphs" >Measurement</text>
<text transform="translate(388.0,179.5) rotate(-22.6)" font-family="&quot;Liberation Sans&quot;, sans-serif" font-size="15.5" fill="#1e1e1e" >U<tspan font-size="9.5" dy="2.5">1</tspan></text>
<text transform="translate(459.0,150.5) rotate(-22.4)" font-family="&quot;Liberation Sans&quot;, sans-serif" font-size="15.5" fill="#1e1e1e" textLength="36.8" lengthAdjust="spacingAndGlyphs" >C(U<tspan font-size="9.5" dy="2.5">2</tspan><tspan dy="-2.5">)</tspan></text>
<text transform="translate(536.0,118.5) rotate(-22.6)" font-family="&quot;Liberation Sans&quot;, sans-serif" font-size="15.5" fill="#1e1e1e" >U<tspan font-size="9.5" dy="2.5">4</tspan></text>
<text transform="translate(514.0,244.5) rotate(-22.4)" font-family="&quot;Liberation Sans&quot;, sans-serif" font-size="15.5" fill="#3c3c44" textLength="36.8" lengthAdjust="spacingAndGlyphs" >C(U<tspan font-size="9.5" dy="2.5">3</tspan><tspan dy="-2.5">)</tspan></text>
<text transform="translate(318.8,376.4) rotate(-24.3)" font-family="&quot;Liberation Sans&quot;, sans-serif" font-size="15.7" fill="#1e1e1e" textLength="47.6" lengthAdjust="spacingAndGlyphs" >PPKTP</text>
<text transform="translate(321.5,423.0) rotate(-24.2)" font-family="&quot;Liberation Sans&quot;, sans-serif" font-size="15.7" fill="#1e1e1e" textLength="47.5" lengthAdjust="spacingAndGlyphs" >L-HWP</text>
<text transform="translate(387.0,344.0) rotate(-23.3)" font-family="&quot;Liberation Sans&quot;, sans-serif" font-size="15.7" fill="#1e1e1e" textLength="56.6" lengthAdjust="spacingAndGlyphs" >Polarizer</text>
<text transform="translate(412.3,382.5) rotate(-23.2)" font-family="&quot;Liberation Sans&quot;, sans-serif" font-size="15.7" fill="#1e1e1e" textLength="35.0" lengthAdjust="spacingAndGlyphs" >HWP</text>
<text transform="translate(458.7,312.5) rotate(-21.8)" font-family="&quot;Liberation Sans&quot;, sans-serif" font-size="15.7" fill="#1e1e1e" textLength="42.3" lengthAdjust="spacingAndGlyphs" >F=300</text>
<text transform="translate(468.3,355.4) rotate(-21.7)" font-family="&quot;Liberation Sans&quot;, sans-serif" font-size="15.7" fill="#1e1e1e" textLength="36.3" lengthAdjust="spacingAndGlyphs" >QWP</text>
<text transform="translate(519.0,284.5) rotate(-23.2)" font-family="&quot;Liberation Sans&quot;, sans-serif" font-size="15.7" fill="#1e1e1e" textLength="26.1" lengthAdjust="spacingAndGlyphs" >DW</text>
<text transform="translate(541.0,325.5) rotate(-23.7)" font-family="&quot;Liberation Sans&quot;, sans-serif" font-size="15.7" fill="#1e1e1e" textLength="44.8" lengthAdjust="spacingAndGlyphs" >L-PBS</text>
<text transform="translate(586.0,253.5) rotate(-23.4)" font-family="&quot;Liberation Sans&quot;, sans-serif" font-size="15.7" fill="#1e1e1e" textLength="40.3" lengthAdjust="spacingAndGlyphs" >Mirror</text>
<text transform="translate(617.8,288.0) rotate(-23.1)" font-family="&quot;Liberation Sans&quot;, sans-serif" font-size="15.7" fill="#1e1e1e" textLength="54.0" lengthAdjust="spacingAndGlyphs" >V-NPBS</text>
<text transform="translate(657.3,222.8) rotate(-22.7)" font-family="&quot;Liberation Sans&quot;, sans-serif" font-size="15.7" fill="#1e1e1e" textLength="22.8" lengthAdjust="spacingAndGlyphs" >Bin</text>
<text transform="translate(698.2,253.6) rotate(-22.8)" font-family="&quot;Liberation Sans&quot;, sans-serif" font-size="16.0" fill="#1e1e1e" textLength="20.4" lengthAdjust="spacingAndGlyphs" >BS</text>
<text transform="translate(758.5,226.4) rotate(-22.8)" font-family="&quot;Liberation Sans&quot;, sans-serif" font-size="16.3" fill="#1e1e1e" textLength="22.2" lengthAdjust="spacingAndGlyphs" >BD</text>
<text transform="translate(726.3,192.2) rotate(-21.9)" font-family="&quot;Liberation Sans&quot;, sans-serif" font-size="16.0" fill="#1e1e1e" textLength="12.1" lengthAdjust="spacingAndGlyphs" >IF</text>
<text transform="translate(285.5,263.8) rotate(-23.5)" font-family="&quot;Liberation Serif&quot;, &quot;DejaVu Serif&quot;, serif" font-size="14.5" fill="#111" textLength="19.1" lengthAdjust="spacingAndGlyphs" font-style="italic" font-weight="bold">|0&gt;</text>
<text transform="translate(309.0,240.5) rotate(-24.2)" font-family="&quot;Liberation Serif&quot;, &quot;DejaVu Serif&quot;, serif" font-size="12.5" fill="#111" font-style="italic" font-weight="bold" stroke-width="0">p</text>
<text transform="translate(303.5,305.0) rotate(-23.8)" font-family="&quot;Liberation Serif&quot;, &quot;DejaVu Serif&quot;, serif" font-size="14.5" fill="#111" textLength="18.6" lengthAdjust="spacingAndGlyphs" font-style="italic" font-weight="bold">|1&gt;</text>
<text transform="translate(323.5,283.0) rotate(-20.0)" font-family="&quot;Liberation Serif&quot;, &quot;DejaVu Serif&quot;, serif" font-size="12.5" fill="#111" font-style="italic" font-weight="bold" stroke-width="0">q</text>
<text transform="translate(360.0,251.5) rotate(0.0)" font-family="&quot;Liberation Serif&quot;, &quot;DejaVu Serif&quot;, serif" font-size="13.5" fill="#111" textLength="36.5" lengthAdjust="spacingAndGlyphs" font-style="italic" stroke-width="0">|φ⟩<tspan font-size="8.5" dy="1.5" font-weight="bold">ini.</tspan></text>
</g>
<rect x="0.5" y="0.5" width="799" height="599" fill="none" stroke="#cfcfcf" stroke-width="1"/></svg>
</body></html>
